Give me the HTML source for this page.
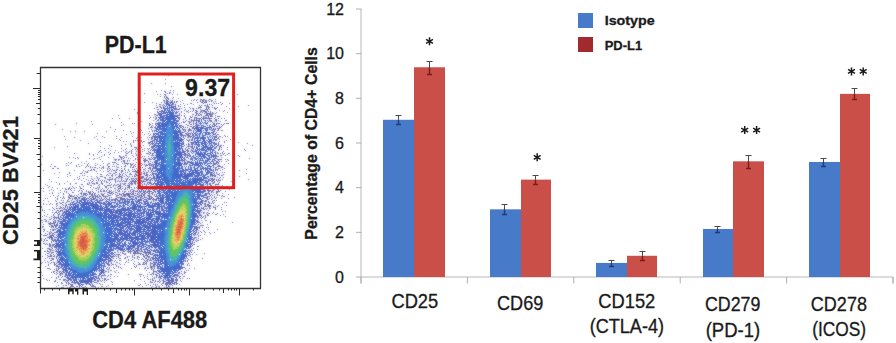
<!DOCTYPE html>
<html><head><meta charset="utf-8"><style>
html,body{margin:0;padding:0;background:#fff;}
svg{display:block;}
text{font-family:"Liberation Sans",sans-serif;fill:#1a1a1a;stroke:#1a1a1a;stroke-width:0.3px;}
.tk{font-size:16px;}
.xl{font-size:19.5px;}
.b{font-weight:bold;}
</style></head><body>
<svg width="896" height="343" viewBox="0 0 896 343" shape-rendering="crispEdges">
<rect width="896" height="343" fill="#fff"/>
<defs><filter id="bl" x="0" y="0" width="1" height="1"><feGaussianBlur in="SourceGraphic" stdDeviation="0.8" result="b"/><feComposite in="SourceGraphic" in2="b" operator="arithmetic" k2="0.45" k3="0.55"/></filter></defs><g filter="url(#bl)"><path d="M148 73.5h1M168 75.5h1M165 79.5h1M138 83.5h1M151 83.5h1M165 83.5h1M171 86.5h1M161 90.5h1M170 90.5h1M173 90.5h1M156 91.5h1M164 91.5h2M165 92.5h1M169 92.5h2M173 92.5h1M144 93.5h1M167 93.5h1M169 93.5h1M157 94.5h1M160 94.5h1M164 94.5h2M172 94.5h1M177 94.5h1M237 94.5h1M165 95.5h1M160 96.5h1M164 96.5h1M166 96.5h1M164 97.5h1M166 97.5h2M173 97.5h1M165 98.5h1M167 98.5h2M172 98.5h1M178 98.5h1M166 99.5h1M168 99.5h1M194 99.5h1M197 99.5h1M200 99.5h2M203 99.5h2M209 99.5h2M215 99.5h1M163 100.5h2M166 100.5h2M170 100.5h1M172 100.5h1M182 100.5h1M191 100.5h1M193 100.5h1M196 100.5h1M200 100.5h1M202 100.5h2M205 100.5h2M208 100.5h1M211 100.5h2M164 101.5h1M166 101.5h3M171 101.5h2M174 101.5h1M176 101.5h2M180 101.5h1M200 101.5h1M202 101.5h2M205 101.5h2M209 101.5h1M211 101.5h1M215 101.5h1M139 102.5h1M144 102.5h1M152 102.5h1M161 102.5h1M164 102.5h1M166 102.5h2M169 102.5h1M171 102.5h2M174 102.5h1M176 102.5h1M197 102.5h1M201 102.5h2M204 102.5h3M213 102.5h1M220 102.5h1M156 103.5h1M165 103.5h1M172 103.5h2M183 103.5h1M190 103.5h2M203 103.5h1M214 103.5h1M216 103.5h1M218 103.5h1M222 103.5h1M229 103.5h1M159 104.5h2M163 104.5h1M172 104.5h2M175 104.5h1M180 104.5h1M187 104.5h1M193 104.5h1M207 104.5h1M209 104.5h1M211 104.5h1M221 104.5h1M156 105.5h1M162 105.5h1M164 105.5h1M175 105.5h1M178 105.5h1M184 105.5h1M199 105.5h1M201 105.5h1M204 105.5h2M207 105.5h1M212 105.5h1M248 105.5h1M159 106.5h2M163 106.5h1M173 106.5h3M178 106.5h1M180 106.5h1M200 106.5h1M206 106.5h3M226 106.5h1M238 106.5h1M156 107.5h2M160 107.5h2M163 107.5h1M175 107.5h1M184 107.5h1M189 107.5h1M198 107.5h4M206 107.5h1M208 107.5h2M212 107.5h1M214 107.5h1M217 107.5h1M154 108.5h1M161 108.5h1M163 108.5h1M174 108.5h3M179 108.5h1M181 108.5h1M190 108.5h1M192 108.5h2M196 108.5h1M198 108.5h1M206 108.5h1M208 108.5h1M214 108.5h3M229 108.5h1M134 109.5h1M157 109.5h2M175 109.5h5M185 109.5h1M193 109.5h1M200 109.5h1M205 109.5h3M209 109.5h1M215 109.5h1M161 110.5h1M184 110.5h1M188 110.5h1M193 110.5h1M195 110.5h2M201 110.5h4M207 110.5h1M219 110.5h1M224 110.5h1M157 111.5h1M159 111.5h3M176 111.5h1M178 111.5h1M181 111.5h1M186 111.5h2M190 111.5h1M192 111.5h1M196 111.5h2M200 111.5h2M203 111.5h4M208 111.5h1M210 111.5h1M223 111.5h1M137 112.5h1M157 112.5h2M176 112.5h2M181 112.5h1M188 112.5h1M195 112.5h2M200 112.5h1M202 112.5h1M205 112.5h2M210 112.5h1M212 112.5h1M216 112.5h1M227 112.5h1M137 113.5h1M158 113.5h3M176 113.5h1M179 113.5h1M184 113.5h1M196 113.5h2M199 113.5h1M204 113.5h1M206 113.5h5M212 113.5h2M215 113.5h1M138 114.5h1M154 114.5h2M158 114.5h2M179 114.5h1M192 114.5h2M196 114.5h1M198 114.5h1M200 114.5h2M206 114.5h2M209 114.5h4M118 115.5h1M149 115.5h1M156 115.5h2M159 115.5h1M176 115.5h4M181 115.5h1M184 115.5h1M195 115.5h2M198 115.5h2M201 115.5h1M205 115.5h4M210 115.5h2M215 115.5h1M155 116.5h1M177 116.5h1M184 116.5h1M190 116.5h1M192 116.5h1M203 116.5h2M208 116.5h1M210 116.5h3M217 116.5h3M150 117.5h1M153 117.5h1M156 117.5h1M158 117.5h1M177 117.5h3M185 117.5h1M190 117.5h2M194 117.5h3M201 117.5h1M205 117.5h2M208 117.5h1M215 117.5h1M112 118.5h1M119 118.5h1M129 118.5h1M149 118.5h1M155 118.5h2M178 118.5h2M185 118.5h1M189 118.5h1M194 118.5h1M196 118.5h5M202 118.5h1M205 118.5h7M214 118.5h1M218 118.5h1M221 118.5h1M224 118.5h1M155 119.5h1M179 119.5h1M183 119.5h1M189 119.5h1M191 119.5h1M194 119.5h1M196 119.5h1M209 119.5h1M215 119.5h2M153 120.5h1M157 120.5h1M178 120.5h1M186 120.5h1M191 120.5h9M204 120.5h2M209 120.5h3M215 120.5h2M218 120.5h1M225 120.5h2M91 121.5h1M139 121.5h1M141 121.5h1M156 121.5h1M183 121.5h1M185 121.5h1M188 121.5h2M191 121.5h1M193 121.5h1M196 121.5h1M198 121.5h1M201 121.5h1M208 121.5h1M210 121.5h2M214 121.5h1M216 121.5h1M220 121.5h1M121 122.5h1M181 122.5h1M183 122.5h2M189 122.5h2M193 122.5h1M196 122.5h1M212 122.5h1M76 123.5h1M132 123.5h1M134 123.5h1M149 123.5h1M152 123.5h1M155 123.5h2M179 123.5h1M189 123.5h1M193 123.5h1M195 123.5h2M213 123.5h2M216 123.5h4M224 123.5h1M226 123.5h3M55 124.5h1M92 124.5h1M123 124.5h1M149 124.5h2M155 124.5h1M186 124.5h1M190 124.5h2M193 124.5h1M196 124.5h2M210 124.5h1M213 124.5h2M216 124.5h1M221 124.5h1M223 124.5h1M121 125.5h1M138 125.5h1M149 125.5h1M152 125.5h1M156 125.5h1M180 125.5h2M187 125.5h2M195 125.5h1M212 125.5h1M214 125.5h2M222 125.5h1M138 126.5h1M151 126.5h1M155 126.5h1M180 126.5h1M182 126.5h2M190 126.5h2M193 126.5h2M196 126.5h1M210 126.5h1M212 126.5h3M216 126.5h2M219 126.5h1M221 126.5h1M110 127.5h1M150 127.5h3M154 127.5h2M180 127.5h2M183 127.5h1M185 127.5h1M187 127.5h1M192 127.5h2M196 127.5h1M211 127.5h1M219 127.5h2M148 128.5h1M155 128.5h1M182 128.5h1M189 128.5h1M192 128.5h2M196 128.5h1M213 128.5h1M215 128.5h1M217 128.5h3M62 129.5h1M115 129.5h1M140 129.5h1M151 129.5h1M182 129.5h4M188 129.5h3M194 129.5h1M212 129.5h4M218 129.5h1M123 130.5h1M141 130.5h1M152 130.5h1M154 130.5h1M183 130.5h1M185 130.5h1M188 130.5h4M193 130.5h1M212 130.5h1M214 130.5h1M217 130.5h2M221 130.5h2M70 131.5h1M75 131.5h1M84 131.5h1M106 131.5h1M114 131.5h1M130 131.5h1M138 131.5h1M149 131.5h1M152 131.5h1M154 131.5h1M184 131.5h2M188 131.5h1M193 131.5h1M213 131.5h2M133 132.5h1M142 132.5h1M181 132.5h3M187 132.5h1M191 132.5h1M193 132.5h1M213 132.5h1M216 132.5h1M97 133.5h1M131 133.5h1M148 133.5h1M153 133.5h2M185 133.5h2M188 133.5h3M192 133.5h1M213 133.5h1M215 133.5h1M126 134.5h1M144 134.5h1M150 134.5h1M153 134.5h1M181 134.5h2M186 134.5h3M190 134.5h1M192 134.5h1M214 134.5h2M217 134.5h2M149 135.5h1M153 135.5h1M182 135.5h4M187 135.5h3M192 135.5h1M216 135.5h1M224 135.5h1M64 136.5h1M96 136.5h1M102 136.5h1M116 136.5h1M132 136.5h1M152 136.5h2M183 136.5h1M185 136.5h1M188 136.5h4M193 136.5h1M215 136.5h2M219 136.5h2M225 136.5h1M227 136.5h1M74 137.5h1M94 137.5h1M104 137.5h1M121 137.5h1M137 137.5h1M141 137.5h1M147 137.5h1M149 137.5h1M151 137.5h2M183 137.5h1M187 137.5h2M190 137.5h1M192 137.5h1M214 137.5h3M218 137.5h1M222 137.5h1M116 138.5h1M136 138.5h1M138 138.5h1M151 138.5h2M184 138.5h1M212 138.5h1M214 138.5h1M217 138.5h2M65 139.5h1M97 139.5h1M119 139.5h1M139 139.5h1M148 139.5h1M151 139.5h1M182 139.5h2M186 139.5h1M189 139.5h1M191 139.5h1M214 139.5h3M219 139.5h1M230 139.5h1M80 140.5h1M120 140.5h1M133 140.5h1M135 140.5h1M137 140.5h2M141 140.5h1M152 140.5h2M187 140.5h3M191 140.5h2M215 140.5h2M226 140.5h1M123 141.5h1M126 141.5h1M133 141.5h1M141 141.5h1M143 141.5h2M150 141.5h3M183 141.5h1M188 141.5h1M219 141.5h1M224 141.5h1M100 142.5h1M133 142.5h1M142 142.5h1M148 142.5h3M152 142.5h1M183 142.5h1M190 142.5h3M214 142.5h1M218 142.5h1M224 142.5h1M238 142.5h1M88 143.5h1M130 143.5h1M148 143.5h2M151 143.5h2M183 143.5h1M188 143.5h1M191 143.5h2M214 143.5h3M218 143.5h1M247 143.5h1M125 144.5h1M130 144.5h1M138 144.5h1M150 144.5h1M152 144.5h1M183 144.5h1M186 144.5h1M188 144.5h2M191 144.5h2M214 144.5h3M218 144.5h1M109 145.5h1M121 145.5h1M131 145.5h1M140 145.5h1M143 145.5h1M149 145.5h1M153 145.5h1M184 145.5h1M188 145.5h1M214 145.5h1M217 145.5h2M220 145.5h2M223 145.5h1M252 145.5h1M67 146.5h1M100 146.5h1M111 146.5h1M131 146.5h1M140 146.5h1M151 146.5h2M183 146.5h1M187 146.5h5M216 146.5h1M219 146.5h2M54 147.5h1M134 147.5h3M141 147.5h1M151 147.5h2M186 147.5h1M191 147.5h2M214 147.5h3M219 147.5h1M221 147.5h1M227 147.5h1M104 148.5h1M108 148.5h1M121 148.5h1M126 148.5h1M136 148.5h1M138 148.5h1M144 148.5h1M147 148.5h1M149 148.5h1M152 148.5h1M185 148.5h1M188 148.5h2M192 148.5h1M215 148.5h1M219 148.5h1M125 149.5h1M132 149.5h1M135 149.5h1M137 149.5h1M142 149.5h1M148 149.5h1M151 149.5h1M185 149.5h1M187 149.5h1M191 149.5h1M218 149.5h2M221 149.5h1M227 149.5h1M233 149.5h1M244 149.5h1M100 150.5h1M105 150.5h1M110 150.5h1M115 150.5h1M123 150.5h1M131 150.5h1M139 150.5h1M144 150.5h1M150 150.5h1M186 150.5h3M191 150.5h1M214 150.5h1M218 150.5h1M245 150.5h1M99 151.5h1M121 151.5h1M126 151.5h1M129 151.5h1M131 151.5h1M136 151.5h1M138 151.5h1M142 151.5h1M148 151.5h1M184 151.5h2M187 151.5h2M190 151.5h1M215 151.5h1M223 151.5h1M260 151.5h1M98 152.5h1M101 152.5h1M108 152.5h1M114 152.5h1M118 152.5h1M125 152.5h1M128 152.5h1M131 152.5h1M140 152.5h1M149 152.5h2M184 152.5h1M187 152.5h1M191 152.5h1M214 152.5h2M217 152.5h1M222 152.5h1M74 153.5h1M89 153.5h1M110 153.5h1M126 153.5h2M131 153.5h1M135 153.5h1M138 153.5h2M146 153.5h3M150 153.5h1M152 153.5h1M184 153.5h2M188 153.5h2M215 153.5h1M217 153.5h2M220 153.5h1M222 153.5h1M224 153.5h1M228 153.5h2M89 154.5h1M93 154.5h1M97 154.5h1M104 154.5h1M109 154.5h1M136 154.5h1M141 154.5h1M149 154.5h1M152 154.5h1M184 154.5h4M189 154.5h1M215 154.5h1M223 154.5h1M227 154.5h1M93 155.5h1M104 155.5h1M119 155.5h1M125 155.5h2M132 155.5h1M136 155.5h1M138 155.5h1M151 155.5h2M184 155.5h2M187 155.5h4M215 155.5h2M220 155.5h2M225 155.5h1M238 155.5h1M42 156.5h1M101 156.5h1M119 156.5h2M123 156.5h1M133 156.5h1M142 156.5h1M144 156.5h1M148 156.5h1M185 156.5h1M187 156.5h1M189 156.5h2M215 156.5h4M239 156.5h1M69 157.5h1M73 157.5h1M77 157.5h1M99 157.5h1M108 157.5h1M113 157.5h1M120 157.5h3M124 157.5h1M126 157.5h1M137 157.5h1M141 157.5h1M151 157.5h1M184 157.5h1M186 157.5h2M215 157.5h1M221 157.5h1M75 158.5h1M78 158.5h1M89 158.5h1M94 158.5h1M97 158.5h1M121 158.5h1M123 158.5h1M128 158.5h1M130 158.5h1M135 158.5h1M139 158.5h1M143 158.5h1M145 158.5h1M148 158.5h2M152 158.5h1M184 158.5h1M188 158.5h1M214 158.5h3M249 158.5h1M93 159.5h1M100 159.5h1M114 159.5h3M118 159.5h2M121 159.5h1M135 159.5h1M137 159.5h1M144 159.5h2M149 159.5h3M185 159.5h1M190 159.5h1M213 159.5h2M217 159.5h5M225 159.5h1M227 159.5h1M115 160.5h1M118 160.5h1M123 160.5h2M127 160.5h1M129 160.5h1M133 160.5h1M139 160.5h1M143 160.5h5M184 160.5h1M186 160.5h1M214 160.5h2M218 160.5h1M228 160.5h1M86 161.5h1M102 161.5h1M121 161.5h1M123 161.5h2M127 161.5h1M139 161.5h1M144 161.5h2M148 161.5h1M150 161.5h1M184 161.5h1M187 161.5h3M216 161.5h2M219 161.5h1M221 161.5h1M226 161.5h1M68 162.5h1M71 162.5h1M81 162.5h1M112 162.5h4M124 162.5h1M136 162.5h1M144 162.5h1M148 162.5h1M152 162.5h1M185 162.5h1M187 162.5h2M213 162.5h1M216 162.5h3M66 163.5h1M70 163.5h1M84 163.5h1M88 163.5h1M95 163.5h1M103 163.5h1M108 163.5h2M116 163.5h1M122 163.5h1M124 163.5h5M130 163.5h1M133 163.5h1M140 163.5h2M149 163.5h2M184 163.5h4M213 163.5h4M218 163.5h1M228 163.5h1M41 164.5h1M51 164.5h1M78 164.5h1M87 164.5h1M97 164.5h1M107 164.5h1M113 164.5h1M117 164.5h2M127 164.5h1M130 164.5h3M135 164.5h1M138 164.5h1M142 164.5h1M144 164.5h1M146 164.5h1M148 164.5h2M151 164.5h2M186 164.5h1M213 164.5h3M217 164.5h1M224 164.5h1M233 164.5h1M66 165.5h1M68 165.5h1M76 165.5h1M81 165.5h1M87 165.5h1M95 165.5h1M100 165.5h1M107 165.5h1M125 165.5h1M131 165.5h1M134 165.5h1M141 165.5h1M145 165.5h3M149 165.5h3M212 165.5h2M218 165.5h2M50 166.5h1M54 166.5h2M76 166.5h1M79 166.5h1M86 166.5h1M88 166.5h1M90 166.5h1M103 166.5h1M108 166.5h2M112 166.5h1M114 166.5h1M116 166.5h1M121 166.5h1M124 166.5h2M130 166.5h1M133 166.5h1M135 166.5h1M145 166.5h1M152 166.5h1M213 166.5h1M217 166.5h4M222 166.5h1M85 167.5h1M90 167.5h1M92 167.5h1M94 167.5h2M99 167.5h1M102 167.5h2M108 167.5h1M117 167.5h2M130 167.5h1M132 167.5h2M139 167.5h2M142 167.5h1M149 167.5h2M213 167.5h1M215 167.5h2M221 167.5h2M52 168.5h2M57 168.5h2M97 168.5h1M101 168.5h1M103 168.5h1M107 168.5h1M109 168.5h1M121 168.5h1M124 168.5h1M136 168.5h1M139 168.5h1M145 168.5h1M148 168.5h3M152 168.5h1M215 168.5h1M218 168.5h2M224 168.5h1M91 169.5h1M93 169.5h2M107 169.5h1M110 169.5h1M112 169.5h1M116 169.5h2M124 169.5h1M128 169.5h1M132 169.5h1M134 169.5h1M138 169.5h3M143 169.5h2M150 169.5h1M152 169.5h1M211 169.5h1M213 169.5h1M215 169.5h3M222 169.5h1M246 169.5h1M43 170.5h1M74 170.5h1M83 170.5h1M88 170.5h1M90 170.5h2M94 170.5h1M100 170.5h1M109 170.5h1M113 170.5h2M116 170.5h1M119 170.5h1M121 170.5h2M125 170.5h1M128 170.5h1M135 170.5h1M137 170.5h1M139 170.5h2M145 170.5h1M148 170.5h1M151 170.5h2M212 170.5h2M215 170.5h1M217 170.5h1M220 170.5h1M239 170.5h1M85 171.5h1M87 171.5h1M96 171.5h1M103 171.5h1M107 171.5h2M111 171.5h1M115 171.5h1M121 171.5h2M129 171.5h1M132 171.5h7M143 171.5h1M148 171.5h1M151 171.5h1M213 171.5h1M59 172.5h1M69 172.5h1M82 172.5h1M86 172.5h2M115 172.5h2M121 172.5h1M125 172.5h1M127 172.5h1M136 172.5h2M141 172.5h1M144 172.5h1M146 172.5h2M150 172.5h1M152 172.5h1M211 172.5h2M214 172.5h1M216 172.5h1M222 172.5h1M224 172.5h1M54 173.5h1M69 173.5h1M80 173.5h2M84 173.5h1M97 173.5h1M109 173.5h2M113 173.5h2M119 173.5h1M123 173.5h1M130 173.5h1M135 173.5h1M138 173.5h1M141 173.5h1M143 173.5h2M146 173.5h1M152 173.5h1M211 173.5h1M213 173.5h1M216 173.5h1M219 173.5h1M246 173.5h1M67 174.5h1M100 174.5h2M107 174.5h1M112 174.5h1M116 174.5h1M119 174.5h2M122 174.5h1M125 174.5h1M129 174.5h3M135 174.5h2M140 174.5h2M144 174.5h1M146 174.5h2M150 174.5h1M152 174.5h1M212 174.5h1M214 174.5h1M217 174.5h2M223 174.5h1M70 175.5h1M82 175.5h1M84 175.5h1M106 175.5h1M108 175.5h1M111 175.5h2M115 175.5h1M119 175.5h1M122 175.5h1M126 175.5h1M134 175.5h1M136 175.5h3M145 175.5h3M149 175.5h1M151 175.5h1M211 175.5h5M219 175.5h1M221 175.5h2M67 176.5h1M79 176.5h1M87 176.5h1M91 176.5h1M96 176.5h1M100 176.5h3M112 176.5h1M118 176.5h4M124 176.5h1M127 176.5h1M129 176.5h1M132 176.5h1M134 176.5h2M139 176.5h1M141 176.5h3M147 176.5h1M153 176.5h1M212 176.5h1M214 176.5h2M239 176.5h1M58 177.5h1M77 177.5h1M97 177.5h1M104 177.5h2M109 177.5h2M116 177.5h2M119 177.5h1M121 177.5h2M128 177.5h1M138 177.5h2M141 177.5h3M146 177.5h1M149 177.5h2M217 177.5h1M220 177.5h1M223 177.5h1M79 178.5h1M83 178.5h1M91 178.5h1M94 178.5h1M97 178.5h1M99 178.5h1M105 178.5h1M112 178.5h1M115 178.5h1M118 178.5h1M121 178.5h1M125 178.5h1M127 178.5h1M131 178.5h3M135 178.5h2M139 178.5h4M144 178.5h1M146 178.5h1M148 178.5h1M151 178.5h3M211 178.5h2M214 178.5h1M219 178.5h1M49 179.5h1M74 179.5h1M78 179.5h1M86 179.5h1M92 179.5h1M98 179.5h1M107 179.5h6M114 179.5h2M121 179.5h1M126 179.5h2M129 179.5h1M131 179.5h1M134 179.5h1M136 179.5h1M138 179.5h2M144 179.5h5M150 179.5h2M211 179.5h4M216 179.5h1M218 179.5h1M222 179.5h1M248 179.5h1M81 180.5h1M88 180.5h1M90 180.5h1M93 180.5h1M96 180.5h1M98 180.5h1M100 180.5h1M102 180.5h1M104 180.5h1M109 180.5h1M115 180.5h1M118 180.5h1M121 180.5h1M123 180.5h1M126 180.5h1M132 180.5h2M135 180.5h1M137 180.5h1M140 180.5h2M143 180.5h1M146 180.5h2M149 180.5h2M152 180.5h1M210 180.5h1M212 180.5h2M216 180.5h1M218 180.5h3M51 181.5h1M67 181.5h1M84 181.5h1M92 181.5h1M101 181.5h1M104 181.5h1M106 181.5h1M115 181.5h1M117 181.5h1M119 181.5h2M122 181.5h1M124 181.5h3M130 181.5h7M139 181.5h1M141 181.5h5M150 181.5h1M211 181.5h2M214 181.5h1M217 181.5h1M231 181.5h1M56 182.5h1M89 182.5h1M91 182.5h1M96 182.5h2M101 182.5h1M106 182.5h2M110 182.5h1M115 182.5h1M129 182.5h1M131 182.5h1M134 182.5h2M138 182.5h1M140 182.5h1M142 182.5h1M147 182.5h4M213 182.5h2M219 182.5h1M59 183.5h1M64 183.5h1M70 183.5h1M75 183.5h2M87 183.5h1M89 183.5h1M92 183.5h3M96 183.5h2M101 183.5h2M109 183.5h1M120 183.5h1M122 183.5h1M124 183.5h2M128 183.5h1M130 183.5h3M134 183.5h2M137 183.5h1M141 183.5h1M144 183.5h1M147 183.5h1M149 183.5h3M153 183.5h1M210 183.5h1M212 183.5h2M218 183.5h1M45 184.5h1M59 184.5h1M70 184.5h1M81 184.5h2M87 184.5h2M94 184.5h1M99 184.5h1M102 184.5h1M111 184.5h1M114 184.5h1M117 184.5h2M120 184.5h1M123 184.5h2M129 184.5h1M131 184.5h2M135 184.5h1M139 184.5h1M142 184.5h1M144 184.5h1M146 184.5h1M148 184.5h1M151 184.5h3M210 184.5h1M215 184.5h4M47 185.5h1M90 185.5h2M98 185.5h1M104 185.5h1M107 185.5h4M113 185.5h1M115 185.5h2M119 185.5h2M125 185.5h1M127 185.5h3M139 185.5h2M142 185.5h1M146 185.5h1M150 185.5h1M210 185.5h2M215 185.5h1M222 185.5h1M49 186.5h1M72 186.5h1M79 186.5h1M83 186.5h1M99 186.5h1M105 186.5h2M113 186.5h1M118 186.5h3M122 186.5h1M128 186.5h2M137 186.5h2M140 186.5h2M143 186.5h1M145 186.5h2M148 186.5h1M152 186.5h3M209 186.5h1M211 186.5h2M216 186.5h4M221 186.5h1M226 186.5h1M48 187.5h1M52 187.5h1M69 187.5h1M73 187.5h1M76 187.5h1M80 187.5h1M90 187.5h1M93 187.5h1M97 187.5h1M99 187.5h1M105 187.5h2M110 187.5h2M117 187.5h1M120 187.5h1M125 187.5h1M127 187.5h3M131 187.5h1M134 187.5h1M136 187.5h1M141 187.5h1M150 187.5h3M210 187.5h6M218 187.5h1M220 187.5h1M41 188.5h1M43 188.5h1M57 188.5h1M62 188.5h1M65 188.5h1M68 188.5h2M71 188.5h1M74 188.5h1M80 188.5h2M95 188.5h2M98 188.5h1M102 188.5h1M108 188.5h1M114 188.5h2M118 188.5h3M122 188.5h1M125 188.5h1M129 188.5h1M134 188.5h1M137 188.5h1M139 188.5h7M150 188.5h1M152 188.5h3M210 188.5h3M222 188.5h1M51 189.5h1M65 189.5h2M68 189.5h1M70 189.5h1M83 189.5h1M92 189.5h1M98 189.5h1M101 189.5h1M107 189.5h1M118 189.5h1M121 189.5h1M124 189.5h2M127 189.5h1M131 189.5h2M138 189.5h1M141 189.5h2M146 189.5h1M148 189.5h1M150 189.5h1M152 189.5h1M154 189.5h2M208 189.5h1M213 189.5h2M217 189.5h2M229 189.5h1M49 190.5h1M53 190.5h1M60 190.5h1M71 190.5h1M74 190.5h1M79 190.5h1M81 190.5h1M86 190.5h1M96 190.5h1M100 190.5h1M103 190.5h2M106 190.5h1M109 190.5h1M111 190.5h1M115 190.5h1M117 190.5h1M119 190.5h1M130 190.5h1M133 190.5h2M137 190.5h1M139 190.5h1M141 190.5h1M143 190.5h1M145 190.5h1M148 190.5h2M153 190.5h2M207 190.5h4M212 190.5h2M218 190.5h1M220 190.5h1M43 191.5h1M64 191.5h1M66 191.5h1M78 191.5h1M82 191.5h1M86 191.5h1M88 191.5h1M90 191.5h1M92 191.5h1M98 191.5h1M100 191.5h2M103 191.5h2M106 191.5h1M109 191.5h2M113 191.5h1M118 191.5h2M122 191.5h1M124 191.5h2M128 191.5h1M130 191.5h1M132 191.5h2M135 191.5h3M139 191.5h3M143 191.5h3M147 191.5h5M154 191.5h2M208 191.5h2M211 191.5h2M216 191.5h4M225 191.5h1M52 192.5h1M60 192.5h1M66 192.5h1M72 192.5h2M81 192.5h1M88 192.5h3M93 192.5h1M98 192.5h1M107 192.5h3M111 192.5h2M115 192.5h2M124 192.5h1M131 192.5h1M133 192.5h1M138 192.5h1M140 192.5h1M143 192.5h2M146 192.5h2M149 192.5h1M152 192.5h2M208 192.5h1M211 192.5h1M213 192.5h1M216 192.5h2M49 193.5h1M52 193.5h1M58 193.5h1M63 193.5h1M68 193.5h1M80 193.5h2M83 193.5h4M89 193.5h2M92 193.5h1M94 193.5h2M101 193.5h1M104 193.5h1M109 193.5h3M113 193.5h1M117 193.5h1M119 193.5h1M122 193.5h2M126 193.5h5M132 193.5h2M135 193.5h1M137 193.5h1M139 193.5h1M141 193.5h2M144 193.5h2M148 193.5h2M151 193.5h2M207 193.5h3M216 193.5h1M222 193.5h1M63 194.5h1M69 194.5h1M78 194.5h1M81 194.5h1M83 194.5h3M87 194.5h1M89 194.5h1M91 194.5h2M94 194.5h1M98 194.5h1M101 194.5h3M107 194.5h1M112 194.5h1M115 194.5h1M119 194.5h3M123 194.5h7M131 194.5h3M137 194.5h2M141 194.5h1M143 194.5h2M149 194.5h1M152 194.5h1M154 194.5h1M206 194.5h1M209 194.5h1M211 194.5h1M214 194.5h1M217 194.5h1M228 194.5h1M53 195.5h1M58 195.5h1M69 195.5h3M74 195.5h1M76 195.5h1M83 195.5h1M85 195.5h2M91 195.5h2M94 195.5h2M97 195.5h1M99 195.5h1M102 195.5h2M108 195.5h3M116 195.5h3M121 195.5h1M123 195.5h3M127 195.5h3M134 195.5h3M139 195.5h3M143 195.5h2M147 195.5h3M154 195.5h1M210 195.5h1M212 195.5h1M217 195.5h1M219 195.5h1M222 195.5h1M50 196.5h1M57 196.5h1M63 196.5h1M68 196.5h1M70 196.5h4M77 196.5h1M80 196.5h3M89 196.5h2M92 196.5h2M95 196.5h3M99 196.5h2M103 196.5h5M116 196.5h1M122 196.5h1M124 196.5h2M128 196.5h6M137 196.5h3M141 196.5h2M144 196.5h1M148 196.5h4M155 196.5h3M207 196.5h3M214 196.5h1M221 196.5h1M223 196.5h2M55 197.5h1M60 197.5h1M63 197.5h1M68 197.5h2M74 197.5h3M78 197.5h2M83 197.5h3M89 197.5h1M92 197.5h2M95 197.5h1M97 197.5h2M101 197.5h1M105 197.5h1M109 197.5h1M111 197.5h1M117 197.5h5M129 197.5h2M133 197.5h1M135 197.5h2M138 197.5h1M140 197.5h2M144 197.5h3M149 197.5h1M151 197.5h2M204 197.5h4M211 197.5h1M214 197.5h1M216 197.5h1M234 197.5h1M45 198.5h1M47 198.5h1M57 198.5h1M62 198.5h1M64 198.5h1M69 198.5h2M72 198.5h1M74 198.5h3M78 198.5h2M81 198.5h4M86 198.5h2M90 198.5h2M93 198.5h3M99 198.5h1M101 198.5h1M104 198.5h1M106 198.5h1M109 198.5h1M115 198.5h2M120 198.5h5M126 198.5h2M131 198.5h1M136 198.5h1M140 198.5h1M142 198.5h2M147 198.5h5M153 198.5h1M156 198.5h2M206 198.5h2M209 198.5h1M212 198.5h1M215 198.5h1M221 198.5h1M228 198.5h1M57 199.5h1M68 199.5h1M72 199.5h1M75 199.5h1M77 199.5h1M89 199.5h1M94 199.5h1M96 199.5h2M100 199.5h1M102 199.5h2M105 199.5h1M107 199.5h3M111 199.5h7M120 199.5h3M124 199.5h2M127 199.5h1M136 199.5h1M139 199.5h1M141 199.5h1M145 199.5h2M148 199.5h3M152 199.5h5M207 199.5h2M211 199.5h1M43 200.5h1M55 200.5h1M61 200.5h1M63 200.5h1M67 200.5h1M71 200.5h1M76 200.5h2M99 200.5h2M102 200.5h1M106 200.5h1M111 200.5h2M114 200.5h2M117 200.5h1M119 200.5h2M125 200.5h1M147 200.5h1M153 200.5h1M156 200.5h1M203 200.5h1M205 200.5h2M213 200.5h2M216 200.5h1M48 201.5h1M56 201.5h1M67 201.5h3M73 201.5h2M98 201.5h1M105 201.5h3M115 201.5h1M147 201.5h1M151 201.5h1M153 201.5h1M204 201.5h3M208 201.5h1M212 201.5h1M59 202.5h1M62 202.5h2M66 202.5h1M71 202.5h2M109 202.5h1M151 202.5h1M208 202.5h2M212 202.5h1M214 202.5h1M224 202.5h1M226 202.5h1M43 203.5h1M50 203.5h1M56 203.5h2M60 203.5h2M65 203.5h1M70 203.5h1M150 203.5h1M152 203.5h1M204 203.5h2M209 203.5h1M211 203.5h1M213 203.5h1M43 204.5h1M46 204.5h1M49 204.5h1M52 204.5h1M56 204.5h1M62 204.5h1M66 204.5h1M68 204.5h2M204 204.5h2M207 204.5h2M222 204.5h1M57 205.5h1M63 205.5h1M65 205.5h2M201 205.5h1M205 205.5h1M207 205.5h4M215 205.5h1M218 205.5h1M226 205.5h1M41 206.5h1M56 206.5h1M60 206.5h1M65 206.5h1M67 206.5h1M204 206.5h3M208 206.5h3M213 206.5h1M217 206.5h1M41 207.5h1M52 207.5h1M60 207.5h2M63 207.5h1M65 207.5h1M67 207.5h1M201 207.5h1M203 207.5h1M209 207.5h1M213 207.5h3M221 207.5h1M53 208.5h1M56 208.5h2M59 208.5h2M62 208.5h1M64 208.5h1M201 208.5h3M205 208.5h1M207 208.5h1M209 208.5h2M215 208.5h1M42 209.5h1M49 209.5h1M54 209.5h1M63 209.5h3M200 209.5h1M203 209.5h2M206 209.5h1M215 209.5h1M221 209.5h1M42 210.5h1M44 210.5h1M52 210.5h1M57 210.5h2M60 210.5h3M200 210.5h2M208 210.5h1M56 211.5h1M59 211.5h2M62 211.5h1M64 211.5h1M200 211.5h1M222 211.5h1M225 211.5h1M44 212.5h1M52 212.5h1M55 212.5h2M58 212.5h1M201 212.5h1M203 212.5h2M207 212.5h1M213 212.5h1M54 213.5h1M57 213.5h1M59 213.5h1M63 213.5h1M198 213.5h2M203 213.5h1M206 213.5h1M208 213.5h2M212 213.5h1M217 213.5h1M47 214.5h1M53 214.5h1M58 214.5h2M199 214.5h2M207 214.5h1M215 214.5h2M223 214.5h1M44 215.5h1M53 215.5h1M58 215.5h1M199 215.5h3M205 215.5h1M207 215.5h2M220 215.5h1M42 216.5h1M46 216.5h1M51 216.5h1M54 216.5h1M58 216.5h1M60 216.5h1M198 216.5h1M201 216.5h1M203 216.5h1M205 216.5h1M225 216.5h1M49 217.5h1M53 217.5h6M60 217.5h1M198 217.5h1M200 217.5h1M202 217.5h1M205 217.5h1M51 218.5h1M54 218.5h1M56 218.5h1M58 218.5h1M201 218.5h1M204 218.5h1M44 219.5h2M49 219.5h2M53 219.5h1M198 219.5h1M41 220.5h2M46 220.5h1M54 220.5h2M57 220.5h1M197 220.5h1M201 220.5h1M205 220.5h2M45 221.5h2M48 221.5h1M53 221.5h1M55 221.5h1M197 221.5h2M210 221.5h1M42 222.5h1M50 222.5h1M53 222.5h3M197 222.5h3M202 222.5h1M210 222.5h1M232 222.5h1M48 223.5h7M57 223.5h1M200 223.5h1M43 224.5h1M49 224.5h2M54 224.5h1M56 224.5h1M198 224.5h1M207 224.5h1M51 225.5h2M54 225.5h3M197 225.5h1M200 225.5h4M42 226.5h2M49 226.5h1M51 226.5h3M55 226.5h2M196 226.5h1M199 226.5h1M42 227.5h1M51 227.5h1M53 227.5h1M55 227.5h1M196 227.5h4M202 227.5h1M206 227.5h1M208 227.5h1M195 228.5h3M199 228.5h1M43 229.5h2M50 229.5h1M52 229.5h3M196 229.5h2M208 229.5h1M217 229.5h1M44 230.5h1M52 230.5h2M195 230.5h2M198 230.5h1M203 230.5h1M43 231.5h1M47 231.5h1M50 231.5h1M196 231.5h1M200 231.5h1M204 231.5h1M49 232.5h1M51 232.5h1M54 232.5h1M195 232.5h2M198 232.5h1M201 232.5h1M205 232.5h1M209 232.5h1M214 232.5h1M45 233.5h1M49 233.5h2M52 233.5h2M195 233.5h1M198 233.5h1M210 233.5h1M41 234.5h1M47 234.5h1M49 234.5h1M52 234.5h1M54 234.5h1M194 234.5h2M197 234.5h1M204 234.5h1M43 235.5h4M50 235.5h4M194 235.5h1M198 235.5h1M200 235.5h1M49 236.5h3M53 236.5h1M198 236.5h1M47 237.5h6M54 237.5h1M194 237.5h3M41 238.5h1M45 238.5h1M49 238.5h1M51 238.5h2M193 238.5h2M198 238.5h1M202 238.5h1M41 239.5h1M44 239.5h1M51 239.5h2M54 239.5h1M193 239.5h1M196 239.5h1M200 239.5h1M41 240.5h1M44 240.5h1M46 240.5h2M52 240.5h2M193 240.5h1M195 240.5h1M197 240.5h2M43 241.5h1M51 241.5h1M53 241.5h1M192 241.5h1M196 241.5h1M51 242.5h1M192 242.5h1M194 242.5h1M43 243.5h2M46 243.5h1M49 243.5h1M191 243.5h2M45 244.5h1M47 244.5h1M49 244.5h2M52 244.5h3M191 244.5h1M193 244.5h2M49 245.5h2M52 245.5h2M192 245.5h1M49 246.5h2M52 246.5h1M54 246.5h1M191 246.5h1M197 246.5h2M51 247.5h1M54 247.5h1M190 247.5h1M42 248.5h1M47 248.5h3M52 248.5h1M127 248.5h1M138 248.5h1M193 248.5h1M49 249.5h3M55 249.5h1M131 249.5h1M133 249.5h1M135 249.5h1M137 249.5h2M140 249.5h2M143 249.5h2M146 249.5h1M191 249.5h1M197 249.5h1M47 250.5h1M50 250.5h1M52 250.5h2M120 250.5h1M122 250.5h2M128 250.5h1M130 250.5h1M132 250.5h3M136 250.5h4M141 250.5h1M144 250.5h1M147 250.5h2M189 250.5h2M192 250.5h1M44 251.5h2M47 251.5h2M50 251.5h1M55 251.5h1M123 251.5h2M127 251.5h5M134 251.5h4M140 251.5h3M144 251.5h2M147 251.5h1M149 251.5h2M190 251.5h1M49 252.5h1M51 252.5h3M118 252.5h1M120 252.5h1M122 252.5h1M128 252.5h1M130 252.5h1M133 252.5h3M137 252.5h2M143 252.5h6M150 252.5h1M188 252.5h2M191 252.5h1M194 252.5h1M47 253.5h2M51 253.5h1M56 253.5h1M122 253.5h2M125 253.5h1M130 253.5h1M133 253.5h9M145 253.5h2M148 253.5h3M189 253.5h1M204 253.5h1M45 254.5h1M50 254.5h1M53 254.5h1M114 254.5h1M116 254.5h4M124 254.5h2M134 254.5h1M140 254.5h1M142 254.5h2M146 254.5h1M148 254.5h1M150 254.5h2M190 254.5h1M192 254.5h1M196 254.5h1M47 255.5h1M50 255.5h2M54 255.5h1M113 255.5h1M115 255.5h1M118 255.5h1M120 255.5h1M132 255.5h1M134 255.5h1M143 255.5h1M145 255.5h3M188 255.5h2M42 256.5h1M48 256.5h4M53 256.5h2M56 256.5h1M113 256.5h2M116 256.5h1M118 256.5h1M127 256.5h1M129 256.5h1M132 256.5h1M137 256.5h2M143 256.5h2M147 256.5h3M190 256.5h1M47 257.5h1M111 257.5h2M118 257.5h1M125 257.5h1M127 257.5h1M132 257.5h1M134 257.5h1M137 257.5h1M139 257.5h1M144 257.5h1M146 257.5h1M148 257.5h2M151 257.5h3M186 257.5h1M45 258.5h1M49 258.5h1M51 258.5h3M56 258.5h1M113 258.5h1M116 258.5h1M119 258.5h2M124 258.5h2M134 258.5h1M137 258.5h1M142 258.5h1M145 258.5h2M150 258.5h1M152 258.5h3M187 258.5h1M191 258.5h1M202 258.5h1M52 259.5h2M110 259.5h2M128 259.5h1M132 259.5h1M138 259.5h1M141 259.5h1M143 259.5h1M147 259.5h2M150 259.5h1M152 259.5h2M188 259.5h1M44 260.5h1M50 260.5h2M109 260.5h4M115 260.5h1M119 260.5h2M128 260.5h1M131 260.5h1M144 260.5h1M146 260.5h2M149 260.5h3M154 260.5h1M185 260.5h1M187 260.5h1M191 260.5h1M47 261.5h1M57 261.5h1M109 261.5h2M114 261.5h1M126 261.5h1M134 261.5h1M145 261.5h1M147 261.5h1M153 261.5h1M185 261.5h1M187 261.5h1M42 262.5h1M45 262.5h1M48 262.5h1M51 262.5h1M53 262.5h2M57 262.5h1M108 262.5h1M111 262.5h1M116 262.5h2M125 262.5h1M128 262.5h1M138 262.5h1M143 262.5h2M146 262.5h1M150 262.5h1M153 262.5h2M41 263.5h1M50 263.5h1M54 263.5h1M56 263.5h1M107 263.5h2M111 263.5h1M119 263.5h1M133 263.5h1M139 263.5h1M143 263.5h1M145 263.5h2M150 263.5h3M188 263.5h1M48 264.5h1M54 264.5h2M58 264.5h1M107 264.5h3M112 264.5h2M115 264.5h1M120 264.5h1M124 264.5h1M134 264.5h1M138 264.5h3M142 264.5h3M146 264.5h1M150 264.5h1M153 264.5h2M187 264.5h1M48 265.5h1M54 265.5h1M56 265.5h2M108 265.5h2M111 265.5h1M116 265.5h1M136 265.5h1M150 265.5h1M153 265.5h2M187 265.5h1M189 265.5h1M45 266.5h1M56 266.5h4M116 266.5h1M118 266.5h1M134 266.5h1M136 266.5h1M147 266.5h1M150 266.5h5M58 267.5h1M107 267.5h1M109 267.5h1M113 267.5h1M118 267.5h1M120 267.5h1M135 267.5h1M145 267.5h1M150 267.5h2M154 267.5h1M182 267.5h3M47 268.5h3M56 268.5h1M58 268.5h2M106 268.5h1M109 268.5h1M114 268.5h1M121 268.5h1M131 268.5h1M139 268.5h1M144 268.5h2M147 268.5h2M151 268.5h2M154 268.5h1M181 268.5h2M185 268.5h1M189 268.5h1M194 268.5h1M50 269.5h1M54 269.5h1M56 269.5h1M58 269.5h1M107 269.5h2M151 269.5h1M153 269.5h1M56 270.5h2M103 270.5h2M110 270.5h2M116 270.5h1M146 270.5h1M153 270.5h1M186 270.5h1M188 270.5h1M53 271.5h2M57 271.5h1M59 271.5h2M103 271.5h1M105 271.5h2M108 271.5h1M114 271.5h1M153 271.5h4M181 271.5h1M184 271.5h1M41 272.5h1M51 272.5h1M53 272.5h1M56 272.5h1M59 272.5h1M61 272.5h1M102 272.5h3M108 272.5h1M115 272.5h1M118 272.5h1M149 272.5h1M153 272.5h1M156 272.5h1M184 272.5h2M54 273.5h1M57 273.5h1M60 273.5h3M103 273.5h1M152 273.5h2M157 273.5h2M179 273.5h1M181 273.5h1M184 273.5h1M56 274.5h1M59 274.5h2M62 274.5h1M100 274.5h1M104 274.5h1M110 274.5h2M128 274.5h1M139 274.5h3M147 274.5h1M150 274.5h2M153 274.5h1M155 274.5h2M182 274.5h1M42 275.5h1M60 275.5h1M99 275.5h1M101 275.5h5M108 275.5h1M143 275.5h1M156 275.5h2M178 275.5h1M58 276.5h1M62 276.5h1M64 276.5h2M98 276.5h1M101 276.5h1M107 276.5h1M110 276.5h1M114 276.5h1M117 276.5h1M140 276.5h1M147 276.5h1M152 276.5h1M156 276.5h1M159 276.5h1M177 276.5h1M179 276.5h2M183 276.5h2M51 277.5h1M56 277.5h1M58 277.5h1M61 277.5h1M96 277.5h1M98 277.5h1M101 277.5h1M144 277.5h1M154 277.5h1M156 277.5h1M158 277.5h3M176 277.5h1M179 277.5h1M43 278.5h1M56 278.5h1M67 278.5h1M97 278.5h3M102 278.5h1M104 278.5h2M110 278.5h1M147 278.5h1M152 278.5h1M154 278.5h1M160 278.5h1M176 278.5h1M180 278.5h1M182 278.5h1M187 278.5h1M189 278.5h1M46 279.5h1M59 279.5h2M63 279.5h3M68 279.5h1M95 279.5h1M99 279.5h1M104 279.5h2M107 279.5h2M140 279.5h1M148 279.5h1M150 279.5h1M152 279.5h1M159 279.5h1M175 279.5h3M47 280.5h1M49 280.5h1M55 280.5h1M63 280.5h2M66 280.5h3M94 280.5h2M97 280.5h2M100 280.5h1M102 280.5h1M104 280.5h1M106 280.5h1M134 280.5h1M152 280.5h2M155 280.5h1M159 280.5h1M162 280.5h2M173 280.5h1M175 280.5h3M180 280.5h1M54 281.5h2M65 281.5h1M67 281.5h1M92 281.5h2M97 281.5h2M101 281.5h1M111 281.5h1M144 281.5h1M150 281.5h1M155 281.5h1M157 281.5h2M160 281.5h1M163 281.5h1M171 281.5h1M173 281.5h1M176 281.5h1M181 281.5h1M57 282.5h1M61 282.5h1M66 282.5h1M68 282.5h1M71 282.5h2M90 282.5h2M94 282.5h3M104 282.5h1M112 282.5h1M150 282.5h3M154 282.5h1M159 282.5h1M163 282.5h1M166 282.5h1M168 282.5h1M171 282.5h2M174 282.5h3M61 283.5h2M66 283.5h1M68 283.5h2M74 283.5h2M89 283.5h1M91 283.5h1M97 283.5h1M99 283.5h1M145 283.5h1M162 283.5h2M165 283.5h6M172 283.5h3M176 283.5h2M68 284.5h1M70 284.5h3M78 284.5h1M86 284.5h1M89 284.5h2M92 284.5h1M100 284.5h1M102 284.5h1M112 284.5h1M140 284.5h1M148 284.5h1M153 284.5h1M155 284.5h1M157 284.5h1M161 284.5h1M165 284.5h3M169 284.5h3M174 284.5h1M176 284.5h1M179 284.5h1M58 285.5h1M63 285.5h1M65 285.5h2M71 285.5h2M79 285.5h2M90 285.5h1M92 285.5h2M108 285.5h1M138 285.5h2M146 285.5h1M150 285.5h1M155 285.5h1M162 285.5h1M166 285.5h1M168 285.5h1M172 285.5h1M56 286.5h1M70 286.5h4M76 286.5h2M79 286.5h1M81 286.5h1M85 286.5h1M91 286.5h5M101 286.5h2M106 286.5h1M142 286.5h1M152 286.5h1M156 286.5h1M158 286.5h2M166 286.5h1M168 286.5h2M61 287.5h3M67 287.5h1M69 287.5h2M74 287.5h1M79 287.5h1M82 287.5h3M86 287.5h1M95 287.5h1M98 287.5h1M151 287.5h1M155 287.5h2M159 287.5h1M164 287.5h1M166 287.5h2M169 287.5h1M172 287.5h1M176 287.5h1" stroke="#5f62a8" stroke-width="1" fill="none"/><path d="M170 102.5h1M166 103.5h3M170 103.5h1M166 104.5h4M171 104.5h1M166 105.5h1M168 105.5h4M165 106.5h1M167 106.5h1M169 106.5h1M171 106.5h2M164 107.5h1M167 107.5h1M169 107.5h5M164 108.5h6M171 108.5h1M173 108.5h1M164 109.5h2M167 109.5h1M169 109.5h1M171 109.5h2M174 109.5h1M162 110.5h1M164 110.5h2M167 110.5h3M171 110.5h3M162 111.5h3M166 111.5h1M168 111.5h3M172 111.5h1M174 111.5h1M161 112.5h1M163 112.5h11M175 112.5h1M161 113.5h5M167 113.5h1M171 113.5h3M175 113.5h1M160 114.5h2M166 114.5h2M170 114.5h1M172 114.5h2M160 115.5h2M163 115.5h4M172 115.5h4M160 116.5h5M173 116.5h4M159 117.5h5M173 117.5h2M203 117.5h1M159 118.5h2M162 118.5h4M173 118.5h4M203 118.5h2M158 119.5h1M160 119.5h4M173 119.5h3M199 119.5h1M201 119.5h1M203 119.5h1M158 120.5h1M160 120.5h5M174 120.5h4M201 120.5h1M207 120.5h1M162 121.5h2M174 121.5h1M176 121.5h3M199 121.5h1M205 121.5h1M158 122.5h3M162 122.5h2M174 122.5h3M198 122.5h1M200 122.5h1M202 122.5h1M204 122.5h2M207 122.5h1M157 123.5h7M174 123.5h4M199 123.5h3M203 123.5h1M205 123.5h3M157 124.5h3M161 124.5h2M175 124.5h2M178 124.5h1M200 124.5h1M206 124.5h1M158 125.5h5M175 125.5h3M179 125.5h1M196 125.5h4M201 125.5h3M207 125.5h1M209 125.5h1M157 126.5h6M174 126.5h1M176 126.5h2M179 126.5h1M197 126.5h1M201 126.5h1M203 126.5h3M209 126.5h1M157 127.5h4M162 127.5h1M176 127.5h3M195 127.5h1M197 127.5h7M206 127.5h5M156 128.5h2M159 128.5h3M176 128.5h1M178 128.5h2M194 128.5h2M197 128.5h2M200 128.5h8M209 128.5h1M211 128.5h1M156 129.5h6M175 129.5h1M177 129.5h1M179 129.5h1M196 129.5h6M205 129.5h3M209 129.5h2M155 130.5h2M158 130.5h1M175 130.5h2M178 130.5h3M195 130.5h1M197 130.5h5M203 130.5h1M205 130.5h3M211 130.5h1M156 131.5h2M159 131.5h2M162 131.5h1M176 131.5h5M196 131.5h6M206 131.5h1M158 132.5h4M177 132.5h4M195 132.5h2M200 132.5h2M203 132.5h7M211 132.5h2M155 133.5h4M160 133.5h1M176 133.5h2M180 133.5h2M194 133.5h2M197 133.5h1M199 133.5h2M202 133.5h1M205 133.5h2M208 133.5h3M212 133.5h1M154 134.5h1M156 134.5h3M160 134.5h1M176 134.5h5M193 134.5h1M195 134.5h2M198 134.5h3M202 134.5h1M205 134.5h5M213 134.5h1M155 135.5h1M158 135.5h3M176 135.5h3M180 135.5h2M193 135.5h1M195 135.5h3M199 135.5h1M202 135.5h4M210 135.5h1M212 135.5h1M154 136.5h6M177 136.5h2M181 136.5h1M194 136.5h1M197 136.5h1M199 136.5h1M202 136.5h2M207 136.5h1M209 136.5h1M211 136.5h1M213 136.5h2M154 137.5h6M177 137.5h4M193 137.5h1M195 137.5h11M207 137.5h2M210 137.5h1M212 137.5h1M154 138.5h2M157 138.5h1M159 138.5h2M176 138.5h3M180 138.5h2M192 138.5h1M194 138.5h5M200 138.5h6M208 138.5h1M154 139.5h4M159 139.5h1M177 139.5h5M192 139.5h1M194 139.5h1M197 139.5h1M200 139.5h1M202 139.5h3M208 139.5h4M213 139.5h1M154 140.5h1M156 140.5h2M159 140.5h1M177 140.5h6M194 140.5h1M196 140.5h5M203 140.5h2M206 140.5h2M209 140.5h3M213 140.5h1M154 141.5h1M156 141.5h3M160 141.5h1M177 141.5h1M179 141.5h3M194 141.5h2M197 141.5h2M202 141.5h4M208 141.5h4M154 142.5h1M156 142.5h1M159 142.5h1M177 142.5h3M182 142.5h1M193 142.5h10M204 142.5h3M208 142.5h2M211 142.5h3M153 143.5h1M155 143.5h5M177 143.5h6M193 143.5h1M195 143.5h2M198 143.5h1M201 143.5h5M207 143.5h1M209 143.5h3M213 143.5h1M154 144.5h2M158 144.5h1M177 144.5h3M181 144.5h2M194 144.5h6M201 144.5h2M204 144.5h3M209 144.5h1M211 144.5h1M154 145.5h5M177 145.5h5M192 145.5h1M197 145.5h3M202 145.5h2M205 145.5h2M208 145.5h1M210 145.5h3M153 146.5h2M156 146.5h3M178 146.5h2M181 146.5h2M192 146.5h1M194 146.5h1M196 146.5h1M198 146.5h2M201 146.5h1M203 146.5h5M210 146.5h1M212 146.5h2M153 147.5h1M155 147.5h2M158 147.5h1M178 147.5h2M181 147.5h1M194 147.5h1M196 147.5h2M202 147.5h11M154 148.5h1M157 148.5h2M178 148.5h5M193 148.5h1M196 148.5h2M199 148.5h1M201 148.5h3M205 148.5h1M207 148.5h5M214 148.5h1M153 149.5h8M178 149.5h3M182 149.5h1M193 149.5h1M195 149.5h1M197 149.5h8M206 149.5h8M152 150.5h7M177 150.5h1M179 150.5h1M182 150.5h2M192 150.5h1M195 150.5h3M199 150.5h1M201 150.5h6M208 150.5h1M210 150.5h1M212 150.5h2M154 151.5h1M156 151.5h3M178 151.5h3M182 151.5h2M192 151.5h5M198 151.5h1M200 151.5h1M205 151.5h3M210 151.5h1M212 151.5h1M154 152.5h4M178 152.5h6M193 152.5h1M196 152.5h3M200 152.5h2M203 152.5h3M210 152.5h3M153 153.5h1M156 153.5h3M176 153.5h1M178 153.5h4M192 153.5h1M195 153.5h8M204 153.5h2M207 153.5h4M212 153.5h1M156 154.5h3M177 154.5h7M195 154.5h1M197 154.5h11M210 154.5h2M213 154.5h1M153 155.5h1M155 155.5h3M159 155.5h1M177 155.5h5M193 155.5h1M195 155.5h1M198 155.5h3M202 155.5h3M207 155.5h3M211 155.5h4M156 156.5h3M179 156.5h4M192 156.5h2M196 156.5h2M199 156.5h7M208 156.5h2M211 156.5h4M153 157.5h5M178 157.5h5M191 157.5h1M193 157.5h3M198 157.5h1M201 157.5h1M203 157.5h4M209 157.5h3M213 157.5h1M154 158.5h2M157 158.5h1M178 158.5h2M181 158.5h1M183 158.5h1M190 158.5h3M194 158.5h4M199 158.5h4M204 158.5h1M206 158.5h4M153 159.5h2M157 159.5h1M178 159.5h2M181 159.5h2M184 159.5h1M191 159.5h2M195 159.5h2M198 159.5h1M200 159.5h1M202 159.5h1M207 159.5h4M212 159.5h1M155 160.5h4M178 160.5h6M192 160.5h1M194 160.5h1M197 160.5h1M199 160.5h5M205 160.5h4M212 160.5h1M154 161.5h4M178 161.5h2M182 161.5h1M191 161.5h1M195 161.5h1M197 161.5h1M199 161.5h1M203 161.5h1M205 161.5h3M209 161.5h1M211 161.5h3M154 162.5h4M178 162.5h3M184 162.5h1M189 162.5h5M195 162.5h3M199 162.5h3M203 162.5h4M210 162.5h1M155 163.5h3M178 163.5h5M190 163.5h4M195 163.5h8M204 163.5h2M207 163.5h5M153 164.5h4M178 164.5h4M183 164.5h3M189 164.5h1M192 164.5h7M200 164.5h1M202 164.5h1M204 164.5h1M207 164.5h1M153 165.5h1M155 165.5h4M178 165.5h4M189 165.5h4M194 165.5h8M205 165.5h2M208 165.5h2M153 166.5h1M155 166.5h3M178 166.5h2M181 166.5h2M184 166.5h1M186 166.5h1M188 166.5h1M190 166.5h1M194 166.5h1M198 166.5h2M201 166.5h2M207 166.5h5M153 167.5h4M178 167.5h2M181 167.5h2M185 167.5h1M188 167.5h1M190 167.5h2M193 167.5h2M197 167.5h2M200 167.5h1M202 167.5h2M205 167.5h1M207 167.5h1M210 167.5h1M153 168.5h6M178 168.5h5M185 168.5h1M188 168.5h1M190 168.5h2M194 168.5h4M200 168.5h11M156 169.5h2M178 169.5h2M182 169.5h2M185 169.5h7M194 169.5h2M197 169.5h1M200 169.5h2M203 169.5h1M205 169.5h3M209 169.5h2M155 170.5h5M177 170.5h2M180 170.5h8M190 170.5h10M201 170.5h1M205 170.5h1M207 170.5h2M210 170.5h2M153 171.5h3M157 171.5h1M178 171.5h6M185 171.5h1M188 171.5h3M192 171.5h2M195 171.5h3M200 171.5h3M205 171.5h1M207 171.5h3M157 172.5h3M177 172.5h2M180 172.5h2M183 172.5h3M189 172.5h1M191 172.5h12M206 172.5h5M153 173.5h4M158 173.5h2M178 173.5h1M180 173.5h3M184 173.5h2M187 173.5h7M195 173.5h5M201 173.5h2M206 173.5h3M210 173.5h1M153 174.5h1M155 174.5h4M178 174.5h17M197 174.5h3M201 174.5h3M205 174.5h3M210 174.5h2M153 175.5h1M156 175.5h3M178 175.5h5M184 175.5h9M194 175.5h8M203 175.5h3M210 175.5h1M154 176.5h1M156 176.5h4M178 176.5h15M194 176.5h5M202 176.5h3M207 176.5h2M210 176.5h1M153 177.5h2M156 177.5h5M178 177.5h3M182 177.5h7M193 177.5h1M195 177.5h1M197 177.5h1M199 177.5h3M203 177.5h4M208 177.5h1M154 178.5h6M179 178.5h2M183 178.5h2M186 178.5h1M188 178.5h1M192 178.5h10M203 178.5h5M210 178.5h1M154 179.5h1M156 179.5h1M158 179.5h3M180 179.5h3M185 179.5h1M191 179.5h1M193 179.5h11M208 179.5h2M154 180.5h5M160 180.5h1M162 180.5h1M179 180.5h2M192 180.5h1M194 180.5h13M208 180.5h2M155 181.5h1M157 181.5h5M194 181.5h4M199 181.5h3M205 181.5h4M154 182.5h1M157 182.5h5M194 182.5h6M201 182.5h2M204 182.5h4M154 183.5h5M160 183.5h2M196 183.5h1M198 183.5h3M203 183.5h1M206 183.5h2M209 183.5h1M155 184.5h8M178 184.5h1M196 184.5h8M205 184.5h1M207 184.5h1M209 184.5h1M156 185.5h2M159 185.5h3M196 185.5h1M200 185.5h4M207 185.5h1M155 186.5h8M196 186.5h2M199 186.5h2M202 186.5h2M205 186.5h1M207 186.5h1M154 187.5h2M157 187.5h1M159 187.5h3M197 187.5h7M206 187.5h1M157 188.5h3M161 188.5h2M196 188.5h5M202 188.5h2M205 188.5h3M156 189.5h1M159 189.5h5M197 189.5h8M207 189.5h1M157 190.5h3M161 190.5h4M196 190.5h5M203 190.5h3M157 191.5h4M163 191.5h2M197 191.5h9M155 192.5h1M158 192.5h2M161 192.5h5M197 192.5h7M157 193.5h4M164 193.5h2M197 193.5h2M200 193.5h1M202 193.5h1M205 193.5h2M156 194.5h1M159 194.5h2M162 194.5h2M165 194.5h1M197 194.5h4M204 194.5h2M156 195.5h1M158 195.5h7M166 195.5h1M197 195.5h10M159 196.5h2M162 196.5h2M165 196.5h2M196 196.5h4M201 196.5h3M157 197.5h2M160 197.5h8M197 197.5h3M203 197.5h1M88 198.5h1M132 198.5h1M135 198.5h1M158 198.5h6M166 198.5h1M196 198.5h5M202 198.5h1M81 199.5h6M91 199.5h3M123 199.5h1M128 199.5h7M138 199.5h1M140 199.5h1M144 199.5h1M158 199.5h1M160 199.5h4M165 199.5h3M197 199.5h1M199 199.5h3M79 200.5h3M83 200.5h3M87 200.5h2M90 200.5h2M95 200.5h3M101 200.5h1M109 200.5h1M118 200.5h1M122 200.5h1M124 200.5h1M127 200.5h1M129 200.5h1M132 200.5h1M135 200.5h1M137 200.5h5M143 200.5h1M146 200.5h1M155 200.5h1M158 200.5h6M166 200.5h3M196 200.5h1M201 200.5h2M77 201.5h1M79 201.5h3M84 201.5h2M87 201.5h1M89 201.5h1M91 201.5h2M94 201.5h1M97 201.5h1M99 201.5h1M108 201.5h1M110 201.5h1M118 201.5h2M122 201.5h1M124 201.5h6M131 201.5h3M135 201.5h5M143 201.5h4M159 201.5h5M165 201.5h3M196 201.5h1M198 201.5h1M200 201.5h3M73 202.5h1M76 202.5h4M81 202.5h10M92 202.5h2M95 202.5h7M103 202.5h2M106 202.5h1M108 202.5h1M111 202.5h5M117 202.5h1M119 202.5h7M127 202.5h3M131 202.5h3M136 202.5h2M139 202.5h3M144 202.5h2M147 202.5h2M150 202.5h1M155 202.5h1M157 202.5h2M160 202.5h4M165 202.5h2M196 202.5h2M199 202.5h4M72 203.5h1M74 203.5h3M79 203.5h2M82 203.5h12M95 203.5h2M99 203.5h7M107 203.5h5M114 203.5h1M116 203.5h2M119 203.5h3M123 203.5h3M127 203.5h2M131 203.5h4M136 203.5h1M138 203.5h2M141 203.5h2M144 203.5h5M153 203.5h7M161 203.5h7M196 203.5h5M202 203.5h1M70 204.5h6M77 204.5h2M80 204.5h9M90 204.5h8M100 204.5h1M103 204.5h9M116 204.5h3M123 204.5h1M125 204.5h3M130 204.5h2M133 204.5h5M140 204.5h1M143 204.5h3M147 204.5h3M152 204.5h1M154 204.5h8M164 204.5h1M166 204.5h2M196 204.5h1M198 204.5h1M200 204.5h2M70 205.5h1M73 205.5h1M75 205.5h4M80 205.5h5M86 205.5h1M88 205.5h11M100 205.5h2M105 205.5h2M108 205.5h2M111 205.5h2M114 205.5h2M117 205.5h1M119 205.5h2M122 205.5h3M127 205.5h2M130 205.5h1M132 205.5h4M137 205.5h4M146 205.5h10M157 205.5h3M161 205.5h1M163 205.5h2M166 205.5h1M195 205.5h3M199 205.5h1M69 206.5h1M71 206.5h1M73 206.5h6M81 206.5h3M85 206.5h1M88 206.5h2M92 206.5h10M103 206.5h1M105 206.5h4M110 206.5h8M119 206.5h3M123 206.5h2M129 206.5h1M132 206.5h15M148 206.5h17M167 206.5h1M195 206.5h5M69 207.5h10M90 207.5h1M93 207.5h6M100 207.5h3M104 207.5h4M110 207.5h6M118 207.5h2M122 207.5h2M125 207.5h1M127 207.5h2M130 207.5h7M138 207.5h5M144 207.5h1M148 207.5h6M157 207.5h3M161 207.5h2M164 207.5h4M195 207.5h3M67 208.5h1M69 208.5h2M72 208.5h4M94 208.5h11M106 208.5h4M113 208.5h1M117 208.5h1M121 208.5h5M127 208.5h10M138 208.5h1M140 208.5h1M142 208.5h1M144 208.5h2M147 208.5h1M152 208.5h2M156 208.5h4M161 208.5h2M164 208.5h3M197 208.5h3M66 209.5h1M68 209.5h7M97 209.5h6M104 209.5h11M117 209.5h13M132 209.5h9M142 209.5h4M147 209.5h4M152 209.5h3M156 209.5h2M159 209.5h1M161 209.5h3M195 209.5h1M197 209.5h1M66 210.5h3M70 210.5h1M72 210.5h2M99 210.5h13M113 210.5h19M133 210.5h2M137 210.5h5M143 210.5h2M146 210.5h1M148 210.5h6M155 210.5h2M159 210.5h1M161 210.5h6M195 210.5h5M65 211.5h5M71 211.5h2M100 211.5h1M104 211.5h10M115 211.5h7M124 211.5h2M128 211.5h1M130 211.5h3M134 211.5h1M136 211.5h5M143 211.5h4M148 211.5h1M150 211.5h1M152 211.5h9M163 211.5h2M195 211.5h5M63 212.5h4M68 212.5h3M101 212.5h1M103 212.5h4M109 212.5h9M119 212.5h6M126 212.5h6M134 212.5h2M137 212.5h1M140 212.5h5M146 212.5h3M150 212.5h4M155 212.5h6M163 212.5h2M194 212.5h1M197 212.5h3M62 213.5h1M65 213.5h6M103 213.5h6M110 213.5h3M115 213.5h8M124 213.5h3M128 213.5h17M146 213.5h6M153 213.5h1M155 213.5h10M194 213.5h3M62 214.5h1M64 214.5h7M105 214.5h5M111 214.5h5M118 214.5h4M123 214.5h12M137 214.5h3M141 214.5h1M143 214.5h1M146 214.5h9M156 214.5h8M194 214.5h3M61 215.5h4M66 215.5h3M108 215.5h11M120 215.5h12M133 215.5h5M139 215.5h3M143 215.5h2M146 215.5h7M154 215.5h1M158 215.5h3M162 215.5h2M194 215.5h4M63 216.5h1M65 216.5h3M110 216.5h2M113 216.5h8M123 216.5h2M127 216.5h9M137 216.5h3M141 216.5h3M146 216.5h1M148 216.5h5M154 216.5h8M163 216.5h1M194 216.5h4M61 217.5h1M63 217.5h5M108 217.5h1M110 217.5h12M123 217.5h4M128 217.5h3M132 217.5h10M144 217.5h8M156 217.5h4M161 217.5h2M194 217.5h2M197 217.5h1M59 218.5h1M62 218.5h2M65 218.5h1M111 218.5h5M117 218.5h2M120 218.5h13M134 218.5h1M136 218.5h1M139 218.5h2M142 218.5h3M146 218.5h5M152 218.5h8M162 218.5h1M193 218.5h2M197 218.5h1M59 219.5h3M63 219.5h3M112 219.5h2M115 219.5h3M119 219.5h15M135 219.5h19M155 219.5h7M194 219.5h2M58 220.5h1M62 220.5h4M111 220.5h1M113 220.5h2M116 220.5h5M122 220.5h3M128 220.5h1M130 220.5h4M136 220.5h5M142 220.5h3M146 220.5h3M151 220.5h4M156 220.5h3M193 220.5h4M58 221.5h8M113 221.5h2M116 221.5h3M121 221.5h2M124 221.5h7M132 221.5h15M148 221.5h5M154 221.5h5M160 221.5h2M193 221.5h2M196 221.5h1M57 222.5h1M60 222.5h3M114 222.5h1M117 222.5h2M120 222.5h13M134 222.5h15M150 222.5h2M153 222.5h5M159 222.5h1M193 222.5h3M59 223.5h6M117 223.5h2M120 223.5h6M127 223.5h4M134 223.5h10M145 223.5h1M147 223.5h6M154 223.5h2M157 223.5h2M160 223.5h1M193 223.5h2M196 223.5h1M57 224.5h1M61 224.5h3M115 224.5h8M125 224.5h8M134 224.5h1M136 224.5h1M138 224.5h4M143 224.5h3M147 224.5h4M152 224.5h4M157 224.5h2M193 224.5h3M57 225.5h1M59 225.5h4M114 225.5h2M117 225.5h11M129 225.5h2M132 225.5h8M141 225.5h7M149 225.5h7M157 225.5h2M59 226.5h1M61 226.5h1M118 226.5h3M122 226.5h4M127 226.5h8M136 226.5h5M142 226.5h17M192 226.5h4M58 227.5h5M116 227.5h1M119 227.5h5M126 227.5h4M131 227.5h1M134 227.5h9M144 227.5h7M152 227.5h4M192 227.5h1M194 227.5h2M56 228.5h2M60 228.5h3M115 228.5h1M117 228.5h2M120 228.5h4M125 228.5h2M128 228.5h6M135 228.5h7M143 228.5h2M146 228.5h5M152 228.5h7M194 228.5h1M55 229.5h1M58 229.5h3M115 229.5h1M117 229.5h5M123 229.5h1M125 229.5h1M127 229.5h1M129 229.5h6M136 229.5h10M147 229.5h2M150 229.5h6M193 229.5h2M57 230.5h4M114 230.5h2M117 230.5h8M126 230.5h3M130 230.5h2M134 230.5h7M143 230.5h2M146 230.5h10M192 230.5h2M56 231.5h6M117 231.5h1M119 231.5h3M123 231.5h5M129 231.5h2M133 231.5h14M148 231.5h2M151 231.5h6M191 231.5h1M193 231.5h2M55 232.5h3M59 232.5h3M114 232.5h1M117 232.5h6M124 232.5h4M129 232.5h2M132 232.5h6M139 232.5h3M143 232.5h1M145 232.5h4M150 232.5h6M157 232.5h1M193 232.5h1M58 233.5h4M115 233.5h1M118 233.5h8M127 233.5h9M137 233.5h3M141 233.5h15M191 233.5h2M194 233.5h1M57 234.5h4M116 234.5h14M131 234.5h5M137 234.5h1M139 234.5h3M143 234.5h1M145 234.5h6M152 234.5h4M190 234.5h2M193 234.5h1M56 235.5h1M58 235.5h3M116 235.5h3M120 235.5h1M122 235.5h9M132 235.5h4M137 235.5h1M139 235.5h7M147 235.5h9M191 235.5h1M57 236.5h4M116 236.5h3M121 236.5h2M124 236.5h8M135 236.5h10M146 236.5h10M157 236.5h1M190 236.5h2M55 237.5h2M58 237.5h2M114 237.5h4M119 237.5h4M124 237.5h4M129 237.5h10M141 237.5h5M147 237.5h2M150 237.5h7M189 237.5h4M57 238.5h2M60 238.5h1M112 238.5h1M115 238.5h4M120 238.5h29M150 238.5h6M189 238.5h3M55 239.5h1M57 239.5h2M113 239.5h15M129 239.5h1M131 239.5h3M135 239.5h10M147 239.5h1M149 239.5h9M189 239.5h4M54 240.5h7M113 240.5h3M117 240.5h4M122 240.5h2M126 240.5h7M134 240.5h2M137 240.5h2M141 240.5h2M144 240.5h2M147 240.5h1M149 240.5h5M155 240.5h3M189 240.5h2M55 241.5h2M58 241.5h3M112 241.5h4M117 241.5h3M121 241.5h2M125 241.5h1M130 241.5h6M137 241.5h1M139 241.5h1M141 241.5h18M189 241.5h2M56 242.5h1M58 242.5h2M111 242.5h2M114 242.5h1M116 242.5h2M119 242.5h3M124 242.5h2M128 242.5h1M130 242.5h1M132 242.5h11M145 242.5h3M149 242.5h1M151 242.5h7M188 242.5h3M55 243.5h4M60 243.5h1M111 243.5h4M117 243.5h4M122 243.5h1M124 243.5h2M128 243.5h3M132 243.5h7M140 243.5h4M145 243.5h1M149 243.5h1M153 243.5h3M157 243.5h1M190 243.5h1M56 244.5h5M110 244.5h10M122 244.5h5M129 244.5h1M131 244.5h1M133 244.5h5M139 244.5h2M142 244.5h5M150 244.5h9M188 244.5h3M55 245.5h6M110 245.5h7M118 245.5h8M127 245.5h2M130 245.5h6M137 245.5h3M141 245.5h3M146 245.5h4M151 245.5h8M187 245.5h2M190 245.5h1M55 246.5h6M109 246.5h10M120 246.5h4M125 246.5h1M127 246.5h8M137 246.5h5M143 246.5h3M148 246.5h4M153 246.5h6M187 246.5h4M55 247.5h2M58 247.5h3M108 247.5h4M113 247.5h1M116 247.5h5M122 247.5h2M126 247.5h1M128 247.5h3M132 247.5h3M137 247.5h2M141 247.5h3M146 247.5h2M149 247.5h1M151 247.5h2M154 247.5h3M158 247.5h1M188 247.5h2M56 248.5h1M58 248.5h2M108 248.5h1M110 248.5h2M113 248.5h10M124 248.5h1M126 248.5h1M128 248.5h5M135 248.5h3M140 248.5h2M145 248.5h2M148 248.5h2M155 248.5h1M158 248.5h2M186 248.5h4M57 249.5h2M60 249.5h1M108 249.5h6M115 249.5h1M118 249.5h7M126 249.5h4M145 249.5h1M147 249.5h1M150 249.5h2M154 249.5h1M156 249.5h2M159 249.5h1M56 250.5h1M58 250.5h1M60 250.5h1M107 250.5h7M117 250.5h1M121 250.5h1M125 250.5h1M149 250.5h1M151 250.5h8M160 250.5h1M186 250.5h1M188 250.5h1M56 251.5h5M106 251.5h1M108 251.5h3M117 251.5h1M153 251.5h3M157 251.5h3M185 251.5h3M57 252.5h4M106 252.5h4M111 252.5h2M114 252.5h2M149 252.5h1M155 252.5h6M185 252.5h1M58 253.5h4M106 253.5h3M110 253.5h4M152 253.5h2M159 253.5h1M185 253.5h3M57 254.5h5M104 254.5h1M106 254.5h1M108 254.5h2M111 254.5h2M152 254.5h1M154 254.5h4M159 254.5h3M184 254.5h2M187 254.5h1M57 255.5h5M104 255.5h7M153 255.5h9M184 255.5h3M57 256.5h1M59 256.5h1M61 256.5h1M104 256.5h5M110 256.5h3M153 256.5h1M155 256.5h1M157 256.5h1M159 256.5h4M183 256.5h4M56 257.5h1M59 257.5h4M104 257.5h6M155 257.5h2M158 257.5h5M183 257.5h2M58 258.5h1M60 258.5h3M105 258.5h2M108 258.5h3M155 258.5h5M161 258.5h1M183 258.5h3M57 259.5h1M59 259.5h4M102 259.5h7M155 259.5h1M157 259.5h2M160 259.5h3M182 259.5h2M57 260.5h1M59 260.5h5M102 260.5h4M108 260.5h1M155 260.5h7M181 260.5h1M183 260.5h2M58 261.5h2M61 261.5h2M101 261.5h1M103 261.5h2M106 261.5h1M108 261.5h1M156 261.5h1M158 261.5h1M160 261.5h3M181 261.5h3M58 262.5h3M62 262.5h2M103 262.5h1M105 262.5h2M155 262.5h2M158 262.5h3M162 262.5h2M180 262.5h3M59 263.5h3M63 263.5h1M101 263.5h4M106 263.5h1M154 263.5h2M157 263.5h2M160 263.5h4M180 263.5h4M59 264.5h6M100 264.5h2M104 264.5h1M155 264.5h1M157 264.5h5M181 264.5h3M61 265.5h5M100 265.5h5M156 265.5h2M159 265.5h1M162 265.5h1M178 265.5h2M181 265.5h1M61 266.5h2M64 266.5h2M99 266.5h1M101 266.5h1M103 266.5h3M157 266.5h4M162 266.5h1M179 266.5h3M60 267.5h2M63 267.5h4M98 267.5h4M103 267.5h1M157 267.5h2M160 267.5h3M164 267.5h1M177 267.5h5M62 268.5h2M65 268.5h3M97 268.5h3M101 268.5h1M103 268.5h1M157 268.5h8M177 268.5h4M62 269.5h5M97 269.5h1M99 269.5h1M101 269.5h3M160 269.5h5M176 269.5h1M178 269.5h3M63 270.5h5M95 270.5h2M98 270.5h5M157 270.5h3M161 270.5h5M175 270.5h4M62 271.5h2M65 271.5h3M69 271.5h1M94 271.5h1M96 271.5h1M99 271.5h1M101 271.5h2M158 271.5h10M175 271.5h1M177 271.5h1M63 272.5h2M66 272.5h4M100 272.5h2M159 272.5h2M163 272.5h2M166 272.5h2M170 272.5h1M172 272.5h5M178 272.5h2M65 273.5h2M68 273.5h4M92 273.5h4M99 273.5h3M161 273.5h7M171 273.5h3M178 273.5h1M65 274.5h2M68 274.5h3M72 274.5h1M92 274.5h5M99 274.5h1M159 274.5h1M162 274.5h1M165 274.5h5M172 274.5h1M174 274.5h4M65 275.5h9M89 275.5h5M98 275.5h1M159 275.5h1M161 275.5h1M163 275.5h9M173 275.5h5M67 276.5h1M69 276.5h1M71 276.5h6M88 276.5h1M90 276.5h1M93 276.5h4M160 276.5h3M164 276.5h4M169 276.5h2M172 276.5h3M66 277.5h3M70 277.5h11M82 277.5h1M86 277.5h3M90 277.5h4M95 277.5h1M163 277.5h9M175 277.5h1M68 278.5h3M72 278.5h2M75 278.5h2M80 278.5h1M82 278.5h4M87 278.5h8M96 278.5h1M161 278.5h1M164 278.5h2M167 278.5h2M171 278.5h3M69 279.5h3M73 279.5h4M78 279.5h1M80 279.5h1M82 279.5h2M85 279.5h1M87 279.5h6M94 279.5h1M163 279.5h1M165 279.5h1M167 279.5h3M171 279.5h3M70 280.5h2M73 280.5h4M79 280.5h13M166 280.5h7M72 281.5h1M74 281.5h1M76 281.5h2M79 281.5h13M164 281.5h2M168 281.5h2M172 281.5h1M73 282.5h6M80 282.5h9M167 282.5h1M169 282.5h2M77 283.5h4M85 283.5h4M79 284.5h1M81 284.5h3M82 285.5h1" stroke="#4862c2" stroke-width="1" fill="none"/><path d="M169 113.5h2M168 114.5h2M171 114.5h1M167 115.5h1M169 115.5h3M166 116.5h7M165 117.5h8M166 118.5h7M165 119.5h8M165 120.5h1M167 120.5h4M173 120.5h1M164 121.5h1M166 121.5h8M165 122.5h4M170 122.5h4M164 123.5h5M171 123.5h3M163 124.5h5M171 124.5h3M163 125.5h4M172 125.5h2M163 126.5h5M172 126.5h2M175 126.5h1M163 127.5h2M166 127.5h1M171 127.5h4M162 128.5h5M172 128.5h3M162 129.5h5M173 129.5h1M162 130.5h4M173 130.5h2M161 131.5h1M163 131.5h3M173 131.5h3M162 132.5h1M164 132.5h1M173 132.5h4M161 133.5h6M172 133.5h4M161 134.5h5M174 134.5h2M162 135.5h1M164 135.5h2M174 135.5h2M160 136.5h6M173 136.5h4M160 137.5h5M173 137.5h4M161 138.5h4M173 138.5h3M160 139.5h2M163 139.5h2M174 139.5h3M160 140.5h5M173 140.5h3M159 141.5h1M161 141.5h4M175 141.5h2M160 142.5h1M162 142.5h3M174 142.5h3M160 143.5h5M173 143.5h4M161 144.5h4M173 144.5h4M159 145.5h6M174 145.5h3M159 146.5h6M174 146.5h4M159 147.5h2M162 147.5h2M165 147.5h1M174 147.5h4M159 148.5h6M174 148.5h3M161 149.5h4M174 149.5h4M159 150.5h2M162 150.5h3M174 150.5h3M159 151.5h6M174 151.5h4M158 152.5h7M174 152.5h1M176 152.5h2M159 153.5h4M175 153.5h1M177 153.5h1M159 154.5h3M163 154.5h2M174 154.5h3M158 155.5h1M160 155.5h4M173 155.5h4M159 156.5h6M173 156.5h4M158 157.5h7M174 157.5h4M158 158.5h7M174 158.5h2M177 158.5h1M158 159.5h7M173 159.5h5M159 160.5h1M161 160.5h4M174 160.5h2M177 160.5h1M161 161.5h3M165 161.5h1M174 161.5h2M177 161.5h1M159 162.5h7M174 162.5h4M158 163.5h2M161 163.5h3M174 163.5h4M158 164.5h7M174 164.5h4M160 165.5h6M173 165.5h5M159 166.5h7M173 166.5h4M160 167.5h5M166 167.5h1M173 167.5h3M177 167.5h1M159 168.5h8M172 168.5h6M158 169.5h8M173 169.5h5M160 170.5h6M173 170.5h4M159 171.5h3M163 171.5h2M174 171.5h4M160 172.5h6M173 172.5h4M160 173.5h5M172 173.5h6M159 174.5h1M161 174.5h5M170 174.5h1M172 174.5h6M160 175.5h6M172 175.5h6M160 176.5h7M172 176.5h6M161 177.5h1M163 177.5h5M171 177.5h7M161 178.5h7M172 178.5h7M185 178.5h1M187 178.5h1M190 178.5h1M161 179.5h6M168 179.5h1M172 179.5h3M176 179.5h2M179 179.5h1M186 179.5h2M189 179.5h2M192 179.5h1M163 180.5h16M181 180.5h1M183 180.5h3M187 180.5h4M193 180.5h1M162 181.5h1M164 181.5h5M170 181.5h4M175 181.5h6M182 181.5h2M185 181.5h9M162 182.5h8M171 182.5h4M176 182.5h2M179 182.5h15M162 183.5h2M165 183.5h21M187 183.5h9M163 184.5h2M166 184.5h4M171 184.5h7M179 184.5h1M181 184.5h13M195 184.5h1M162 185.5h1M164 185.5h1M166 185.5h6M173 185.5h20M195 185.5h1M164 186.5h10M175 186.5h11M188 186.5h1M190 186.5h4M195 186.5h1M163 187.5h6M170 187.5h14M189 187.5h3M193 187.5h3M164 188.5h11M176 188.5h6M190 188.5h6M165 189.5h2M168 189.5h14M191 189.5h6M165 190.5h1M167 190.5h4M172 190.5h4M177 190.5h2M192 190.5h4M166 191.5h7M174 191.5h7M192 191.5h2M195 191.5h2M166 192.5h12M194 192.5h3M166 193.5h2M169 193.5h9M192 193.5h3M166 194.5h4M171 194.5h6M193 194.5h4M167 195.5h10M193 195.5h2M167 196.5h9M193 196.5h3M168 197.5h2M171 197.5h5M192 197.5h2M195 197.5h1M167 198.5h4M172 198.5h4M193 198.5h3M168 199.5h7M192 199.5h5M169 200.5h6M193 200.5h3M168 201.5h1M170 201.5h5M193 201.5h3M168 202.5h6M193 202.5h3M168 203.5h4M173 203.5h1M193 203.5h3M168 204.5h6M193 204.5h1M195 204.5h1M168 205.5h5M193 205.5h2M84 206.5h1M86 206.5h2M91 206.5h1M168 206.5h5M192 206.5h3M80 207.5h10M92 207.5h1M168 207.5h5M193 207.5h2M77 208.5h5M83 208.5h11M167 208.5h5M193 208.5h2M75 209.5h16M93 209.5h1M95 209.5h2M166 209.5h1M168 209.5h3M192 209.5h3M74 210.5h2M77 210.5h21M167 210.5h4M192 210.5h3M73 211.5h1M75 211.5h7M83 211.5h3M88 211.5h11M166 211.5h4M192 211.5h2M72 212.5h1M74 212.5h4M79 212.5h1M85 212.5h1M90 212.5h3M94 212.5h3M98 212.5h3M166 212.5h1M168 212.5h2M192 212.5h2M71 213.5h4M76 213.5h2M89 213.5h1M91 213.5h1M93 213.5h10M165 213.5h5M192 213.5h2M71 214.5h5M93 214.5h1M95 214.5h8M104 214.5h1M164 214.5h6M192 214.5h2M69 215.5h6M96 215.5h11M164 215.5h6M192 215.5h2M68 216.5h6M97 216.5h13M162 216.5h1M164 216.5h4M192 216.5h2M68 217.5h1M70 217.5h4M97 217.5h1M99 217.5h3M103 217.5h5M109 217.5h1M163 217.5h6M192 217.5h2M66 218.5h5M100 218.5h7M108 218.5h3M161 218.5h1M164 218.5h4M192 218.5h1M68 219.5h3M101 219.5h3M105 219.5h2M108 219.5h2M111 219.5h1M164 219.5h1M167 219.5h1M191 219.5h3M66 220.5h4M101 220.5h8M110 220.5h1M112 220.5h1M115 220.5h1M125 220.5h1M127 220.5h1M160 220.5h7M191 220.5h2M67 221.5h3M102 221.5h5M108 221.5h5M162 221.5h6M191 221.5h2M65 222.5h4M102 222.5h2M105 222.5h5M111 222.5h3M115 222.5h2M161 222.5h6M191 222.5h2M65 223.5h4M103 223.5h11M115 223.5h1M119 223.5h1M161 223.5h5M191 223.5h2M64 224.5h4M103 224.5h12M159 224.5h8M191 224.5h2M63 225.5h5M103 225.5h8M112 225.5h2M116 225.5h1M156 225.5h1M159 225.5h7M190 225.5h3M63 226.5h4M103 226.5h6M110 226.5h5M116 226.5h2M159 226.5h7M190 226.5h2M63 227.5h4M104 227.5h1M106 227.5h6M113 227.5h1M115 227.5h1M156 227.5h9M190 227.5h2M63 228.5h4M105 228.5h10M116 228.5h1M159 228.5h6M190 228.5h2M62 229.5h3M104 229.5h1M106 229.5h7M114 229.5h1M116 229.5h1M157 229.5h8M189 229.5h3M63 230.5h3M105 230.5h7M113 230.5h1M156 230.5h2M159 230.5h2M162 230.5h2M189 230.5h2M62 231.5h3M105 231.5h10M157 231.5h8M189 231.5h2M62 232.5h4M106 232.5h7M115 232.5h1M156 232.5h1M159 232.5h5M189 232.5h2M62 233.5h3M105 233.5h2M108 233.5h7M116 233.5h1M156 233.5h9M189 233.5h1M61 234.5h3M105 234.5h7M113 234.5h3M156 234.5h9M188 234.5h2M62 235.5h3M105 235.5h8M114 235.5h2M157 235.5h8M188 235.5h2M61 236.5h3M106 236.5h4M111 236.5h5M156 236.5h1M158 236.5h6M187 236.5h3M60 237.5h4M106 237.5h6M157 237.5h8M188 237.5h1M61 238.5h1M104 238.5h8M113 238.5h2M157 238.5h7M188 238.5h1M61 239.5h3M106 239.5h7M158 239.5h6M187 239.5h2M61 240.5h3M105 240.5h8M158 240.5h7M187 240.5h1M61 241.5h1M63 241.5h1M105 241.5h7M160 241.5h4M187 241.5h2M61 242.5h4M105 242.5h6M158 242.5h6M186 242.5h2M61 243.5h3M105 243.5h3M110 243.5h1M158 243.5h6M186 243.5h2M61 244.5h3M104 244.5h1M106 244.5h4M160 244.5h5M186 244.5h2M61 245.5h3M105 245.5h3M109 245.5h1M159 245.5h4M164 245.5h1M185 245.5h2M62 246.5h2M103 246.5h5M159 246.5h2M162 246.5h2M185 246.5h2M61 247.5h4M104 247.5h4M159 247.5h3M163 247.5h2M185 247.5h2M61 248.5h3M104 248.5h3M160 248.5h5M61 249.5h1M63 249.5h1M103 249.5h5M160 249.5h4M185 249.5h1M61 250.5h4M102 250.5h4M161 250.5h4M184 250.5h2M62 251.5h2M101 251.5h5M160 251.5h6M183 251.5h2M61 252.5h4M101 252.5h5M161 252.5h4M183 252.5h2M62 253.5h3M101 253.5h2M104 253.5h2M160 253.5h6M182 253.5h2M62 254.5h4M101 254.5h3M105 254.5h1M163 254.5h3M182 254.5h2M63 255.5h4M100 255.5h4M162 255.5h4M181 255.5h3M62 256.5h1M64 256.5h2M100 256.5h4M163 256.5h4M181 256.5h2M63 257.5h1M65 257.5h2M99 257.5h3M103 257.5h1M163 257.5h3M181 257.5h2M63 258.5h2M99 258.5h4M162 258.5h5M180 258.5h3M63 259.5h4M98 259.5h4M163 259.5h3M179 259.5h3M64 260.5h4M97 260.5h5M162 260.5h1M164 260.5h3M179 260.5h2M64 261.5h4M97 261.5h4M164 261.5h3M178 261.5h3M65 262.5h3M97 262.5h3M101 262.5h1M164 262.5h3M178 262.5h1M64 263.5h5M96 263.5h4M164 263.5h4M177 263.5h3M65 264.5h5M95 264.5h5M164 264.5h5M176 264.5h4M66 265.5h4M94 265.5h3M98 265.5h2M164 265.5h4M169 265.5h1M174 265.5h4M66 266.5h3M70 266.5h1M94 266.5h5M164 266.5h6M172 266.5h7M68 267.5h2M71 267.5h1M94 267.5h3M165 267.5h12M68 268.5h4M92 268.5h5M165 268.5h12M68 269.5h5M91 269.5h6M165 269.5h11M70 270.5h7M90 270.5h5M166 270.5h6M173 270.5h2M70 271.5h1M72 271.5h5M88 271.5h5M168 271.5h5M174 271.5h1M71 272.5h8M83 272.5h1M85 272.5h9M168 272.5h2M73 273.5h3M77 273.5h14M168 273.5h3M73 274.5h16M90 274.5h2M75 275.5h14M77 276.5h11M81 277.5h1M83 277.5h2" stroke="#416acc" stroke-width="1" fill="none"/><path d="M169 122.5h1M169 123.5h2M168 124.5h3M167 125.5h5M168 126.5h1M170 126.5h2M167 127.5h4M167 128.5h5M167 129.5h6M166 130.5h7M166 131.5h7M166 132.5h7M167 133.5h5M166 134.5h7M166 135.5h2M170 135.5h4M166 136.5h7M165 137.5h5M171 137.5h2M165 138.5h4M171 138.5h2M165 139.5h3M170 139.5h4M165 140.5h5M171 140.5h2M165 141.5h2M168 141.5h1M171 141.5h3M165 142.5h3M170 142.5h4M165 143.5h3M170 143.5h3M165 144.5h3M171 144.5h2M165 145.5h3M171 145.5h3M166 146.5h1M171 146.5h3M164 147.5h1M166 147.5h2M171 147.5h3M165 148.5h2M171 148.5h3M165 149.5h3M170 149.5h1M172 149.5h2M165 150.5h3M171 150.5h3M165 151.5h3M170 151.5h4M165 152.5h3M172 152.5h2M164 153.5h4M170 153.5h5M165 154.5h3M170 154.5h4M164 155.5h5M170 155.5h2M165 156.5h3M170 156.5h3M165 157.5h4M170 157.5h4M165 158.5h2M171 158.5h3M165 159.5h1M167 159.5h1M169 159.5h1M171 159.5h2M165 160.5h3M169 160.5h5M164 161.5h1M166 161.5h8M166 162.5h3M170 162.5h4M166 163.5h3M171 163.5h3M165 164.5h8M166 165.5h7M166 166.5h7M165 167.5h1M167 167.5h6M167 168.5h1M169 168.5h3M166 169.5h7M166 170.5h7M165 171.5h9M166 172.5h7M165 173.5h7M166 174.5h4M171 174.5h1M166 175.5h6M167 176.5h5M168 177.5h3M168 178.5h4M167 179.5h1M169 179.5h3M169 181.5h1M186 186.5h2M189 186.5h1M184 187.5h5M182 188.5h8M182 189.5h9M180 190.5h12M181 191.5h4M186 191.5h6M178 192.5h6M185 192.5h1M187 192.5h6M178 193.5h5M188 193.5h4M177 194.5h6M189 194.5h4M177 195.5h6M189 195.5h4M176 196.5h5M190 196.5h3M176 197.5h3M190 197.5h2M176 198.5h3M189 198.5h4M175 199.5h3M189 199.5h3M175 200.5h3M190 200.5h3M175 201.5h3M190 201.5h3M174 202.5h3M189 202.5h4M174 203.5h3M190 203.5h3M174 204.5h3M191 204.5h1M173 205.5h2M191 205.5h2M173 206.5h2M191 206.5h1M173 207.5h2M190 207.5h3M172 208.5h3M191 208.5h2M171 209.5h4M191 209.5h1M171 210.5h3M191 210.5h1M82 211.5h1M86 211.5h2M170 211.5h4M190 211.5h2M78 212.5h1M80 212.5h5M86 212.5h4M170 212.5h3M191 212.5h1M78 213.5h11M90 213.5h1M92 213.5h1M170 213.5h3M190 213.5h2M76 214.5h17M94 214.5h1M170 214.5h2M190 214.5h2M75 215.5h21M170 215.5h3M190 215.5h2M74 216.5h2M77 216.5h3M89 216.5h8M168 216.5h4M190 216.5h2M74 217.5h4M81 217.5h1M91 217.5h6M98 217.5h1M170 217.5h2M190 217.5h2M72 218.5h4M77 218.5h1M90 218.5h1M92 218.5h1M94 218.5h6M168 218.5h3M190 218.5h1M71 219.5h6M94 219.5h7M168 219.5h2M190 219.5h1M70 220.5h5M95 220.5h6M167 220.5h4M190 220.5h1M70 221.5h4M95 221.5h7M168 221.5h3M189 221.5h2M69 222.5h3M96 222.5h5M167 222.5h3M189 222.5h2M69 223.5h3M97 223.5h6M166 223.5h4M190 223.5h1M68 224.5h3M98 224.5h5M167 224.5h2M189 224.5h2M68 225.5h2M99 225.5h4M166 225.5h4M189 225.5h1M67 226.5h4M99 226.5h4M166 226.5h4M189 226.5h1M67 227.5h3M99 227.5h5M165 227.5h4M189 227.5h1M67 228.5h3M100 228.5h5M167 228.5h1M189 228.5h1M66 229.5h3M100 229.5h4M105 229.5h1M165 229.5h3M188 229.5h1M66 230.5h3M101 230.5h4M164 230.5h5M188 230.5h1M65 231.5h3M100 231.5h5M165 231.5h3M188 231.5h1M66 232.5h2M100 232.5h3M104 232.5h2M164 232.5h4M187 232.5h2M65 233.5h2M100 233.5h1M102 233.5h3M165 233.5h3M187 233.5h2M64 234.5h4M100 234.5h5M165 234.5h3M187 234.5h1M65 235.5h3M101 235.5h4M165 235.5h3M187 235.5h1M64 236.5h3M101 236.5h5M164 236.5h3M65 237.5h3M101 237.5h5M165 237.5h3M187 237.5h1M64 238.5h3M101 238.5h3M164 238.5h3M186 238.5h1M64 239.5h3M101 239.5h5M164 239.5h4M186 239.5h1M64 240.5h3M100 240.5h5M165 240.5h2M186 240.5h1M64 241.5h4M101 241.5h4M164 241.5h3M185 241.5h1M65 242.5h3M101 242.5h4M164 242.5h3M184 242.5h2M64 243.5h4M101 243.5h4M164 243.5h4M184 243.5h2M64 244.5h1M100 244.5h4M165 244.5h2M184 244.5h2M64 245.5h3M101 245.5h3M165 245.5h2M184 245.5h1M64 246.5h3M100 246.5h3M164 246.5h4M183 246.5h2M65 247.5h2M100 247.5h4M165 247.5h2M183 247.5h2M64 248.5h3M99 248.5h5M165 248.5h2M183 248.5h2M64 249.5h3M100 249.5h3M164 249.5h4M182 249.5h2M65 250.5h3M99 250.5h3M165 250.5h3M182 250.5h2M64 251.5h5M99 251.5h2M166 251.5h2M182 251.5h1M65 252.5h3M98 252.5h3M165 252.5h3M181 252.5h2M65 253.5h3M98 253.5h1M100 253.5h1M166 253.5h3M180 253.5h2M66 254.5h2M97 254.5h4M166 254.5h3M180 254.5h2M67 255.5h2M96 255.5h2M99 255.5h1M166 255.5h3M179 255.5h2M66 256.5h4M97 256.5h3M167 256.5h2M178 256.5h3M67 257.5h3M96 257.5h3M166 257.5h4M178 257.5h3M66 258.5h3M94 258.5h1M96 258.5h3M167 258.5h3M171 258.5h1M177 258.5h3M67 259.5h3M95 259.5h3M166 259.5h4M176 259.5h3M68 260.5h3M94 260.5h3M167 260.5h3M174 260.5h1M176 260.5h3M68 261.5h4M93 261.5h4M167 261.5h3M171 261.5h7M68 262.5h1M70 262.5h1M93 262.5h4M167 262.5h11M69 263.5h3M92 263.5h4M168 263.5h9M70 264.5h3M75 264.5h1M91 264.5h4M169 264.5h7M70 265.5h4M90 265.5h4M170 265.5h4M71 266.5h5M90 266.5h4M170 266.5h2M72 267.5h7M87 267.5h7M72 268.5h12M87 268.5h5M73 269.5h18M77 270.5h13M77 271.5h11M79 272.5h4M84 272.5h1" stroke="#4a8ed8" stroke-width="1" fill="none"/><path d="M168 135.5h2M170 137.5h1M169 138.5h2M168 139.5h2M170 140.5h1M167 141.5h1M169 141.5h2M168 142.5h2M168 143.5h2M168 144.5h3M168 145.5h3M167 146.5h4M168 147.5h3M167 148.5h4M168 149.5h2M171 149.5h1M168 150.5h3M168 151.5h2M168 152.5h4M168 153.5h2M168 154.5h2M169 155.5h1M168 156.5h2M169 157.5h1M167 158.5h4M168 159.5h1M170 159.5h1M168 160.5h1M169 162.5h1M169 163.5h2M185 191.5h1M184 192.5h1M186 192.5h1M183 193.5h5M183 194.5h6M183 195.5h6M181 196.5h9M179 197.5h5M186 197.5h4M179 198.5h3M183 198.5h2M186 198.5h3M178 199.5h4M187 199.5h2M178 200.5h3M187 200.5h1M189 200.5h1M178 201.5h3M188 201.5h2M177 202.5h3M188 202.5h1M177 203.5h2M189 203.5h1M177 204.5h2M189 204.5h2M175 205.5h3M188 205.5h3M175 206.5h2M189 206.5h2M175 207.5h3M189 207.5h1M175 208.5h2M189 208.5h2M175 209.5h2M189 209.5h2M174 210.5h2M188 210.5h3M174 211.5h2M189 211.5h1M173 212.5h2M189 212.5h2M173 213.5h2M189 213.5h1M172 214.5h3M189 214.5h1M173 215.5h1M189 215.5h1M80 216.5h9M172 216.5h2M189 216.5h1M78 217.5h3M82 217.5h1M84 217.5h7M172 217.5h2M188 217.5h2M76 218.5h1M78 218.5h12M91 218.5h1M93 218.5h1M171 218.5h2M188 218.5h2M77 219.5h5M83 219.5h1M85 219.5h9M170 219.5h3M188 219.5h2M75 220.5h7M85 220.5h1M88 220.5h1M90 220.5h5M171 220.5h2M188 220.5h2M74 221.5h5M86 221.5h1M88 221.5h1M92 221.5h3M171 221.5h1M188 221.5h1M72 222.5h5M79 222.5h1M93 222.5h3M170 222.5h2M188 222.5h1M72 223.5h4M93 223.5h4M170 223.5h2M188 223.5h2M71 224.5h5M94 224.5h4M169 224.5h3M188 224.5h1M70 225.5h5M94 225.5h5M170 225.5h2M188 225.5h1M71 226.5h3M95 226.5h4M170 226.5h1M187 226.5h2M70 227.5h3M95 227.5h4M169 227.5h2M187 227.5h2M70 228.5h3M96 228.5h4M168 228.5h3M187 228.5h2M69 229.5h3M97 229.5h3M168 229.5h3M186 229.5h2M69 230.5h4M97 230.5h4M169 230.5h1M186 230.5h2M68 231.5h3M97 231.5h3M168 231.5h2M186 231.5h2M68 232.5h3M97 232.5h3M168 232.5h3M186 232.5h1M67 233.5h5M97 233.5h3M101 233.5h1M168 233.5h2M186 233.5h1M68 234.5h2M96 234.5h4M168 234.5h2M186 234.5h1M68 235.5h2M98 235.5h3M168 235.5h2M185 235.5h2M67 236.5h3M98 236.5h3M167 236.5h3M185 236.5h2M68 237.5h2M98 237.5h3M168 237.5h2M185 237.5h2M67 238.5h3M98 238.5h3M167 238.5h2M185 238.5h1M67 239.5h3M98 239.5h3M168 239.5h2M184 239.5h2M67 240.5h2M99 240.5h1M167 240.5h3M184 240.5h2M68 241.5h2M98 241.5h3M167 241.5h2M183 241.5h2M68 242.5h1M99 242.5h2M167 242.5h3M183 242.5h1M68 243.5h2M98 243.5h3M168 243.5h1M183 243.5h1M66 244.5h3M98 244.5h2M167 244.5h2M182 244.5h2M67 245.5h3M97 245.5h4M167 245.5h3M182 245.5h2M67 246.5h3M98 246.5h2M168 246.5h2M182 246.5h1M67 247.5h2M97 247.5h3M167 247.5h3M181 247.5h2M67 248.5h3M97 248.5h2M167 248.5h2M181 248.5h2M67 249.5h3M97 249.5h3M168 249.5h3M179 249.5h3M68 250.5h2M96 250.5h3M168 250.5h3M179 250.5h3M69 251.5h2M95 251.5h4M168 251.5h3M179 251.5h3M68 252.5h3M96 252.5h2M168 252.5h2M178 252.5h3M68 253.5h3M95 253.5h3M169 253.5h2M177 253.5h3M68 254.5h3M94 254.5h3M169 254.5h2M173 254.5h1M177 254.5h2M69 255.5h2M93 255.5h3M169 255.5h3M176 255.5h3M70 256.5h2M93 256.5h4M169 256.5h4M175 256.5h3M70 257.5h3M93 257.5h3M170 257.5h8M69 258.5h4M91 258.5h3M95 258.5h1M170 258.5h1M172 258.5h5M70 259.5h4M89 259.5h1M91 259.5h4M171 259.5h5M71 260.5h3M90 260.5h4M170 260.5h4M175 260.5h1M72 261.5h4M89 261.5h4M170 261.5h1M71 262.5h6M87 262.5h1M89 262.5h4M72 263.5h4M88 263.5h4M73 264.5h2M76 264.5h3M80 264.5h1M83 264.5h1M85 264.5h6M74 265.5h7M82 265.5h8M76 266.5h14M79 267.5h8M84 268.5h3" stroke="#44b8a8" stroke-width="1" fill="none"/><path d="M184 197.5h2M182 198.5h1M185 198.5h1M182 199.5h5M181 200.5h6M188 200.5h1M181 201.5h7M180 202.5h8M179 203.5h4M184 203.5h5M179 204.5h4M185 204.5h4M178 205.5h4M186 205.5h2M177 206.5h4M186 206.5h3M178 207.5h2M186 207.5h3M177 208.5h3M186 208.5h3M177 209.5h2M187 209.5h2M176 210.5h3M187 210.5h1M176 211.5h2M186 211.5h3M175 212.5h3M186 212.5h3M175 213.5h2M187 213.5h2M175 214.5h1M187 214.5h2M174 215.5h2M186 215.5h3M174 216.5h2M187 216.5h2M174 217.5h1M187 217.5h1M173 218.5h2M187 218.5h1M82 219.5h1M84 219.5h1M173 219.5h2M186 219.5h2M82 220.5h3M86 220.5h2M89 220.5h1M173 220.5h2M186 220.5h2M79 221.5h7M87 221.5h1M89 221.5h3M172 221.5h3M187 221.5h1M77 222.5h2M80 222.5h13M172 222.5h2M186 222.5h2M76 223.5h17M172 223.5h2M186 223.5h2M76 224.5h5M86 224.5h8M172 224.5h1M186 224.5h2M75 225.5h6M88 225.5h6M172 225.5h1M186 225.5h2M74 226.5h4M79 226.5h1M82 226.5h1M90 226.5h5M171 226.5h2M186 226.5h1M73 227.5h4M89 227.5h6M171 227.5h2M185 227.5h2M73 228.5h3M92 228.5h4M171 228.5h1M186 228.5h1M72 229.5h3M76 229.5h1M93 229.5h4M171 229.5h2M185 229.5h1M73 230.5h2M92 230.5h5M170 230.5h2M185 230.5h1M71 231.5h3M92 231.5h1M94 231.5h3M170 231.5h3M184 231.5h2M71 232.5h4M93 232.5h4M171 232.5h2M185 232.5h1M72 233.5h3M95 233.5h2M170 233.5h2M185 233.5h1M70 234.5h4M95 234.5h1M170 234.5h2M184 234.5h2M70 235.5h4M95 235.5h3M170 235.5h2M183 235.5h2M70 236.5h3M95 236.5h3M170 236.5h1M183 236.5h2M70 237.5h4M94 237.5h4M170 237.5h2M183 237.5h2M70 238.5h3M94 238.5h4M169 238.5h3M183 238.5h2M70 239.5h3M94 239.5h4M170 239.5h1M183 239.5h1M69 240.5h2M94 240.5h5M170 240.5h1M180 240.5h1M182 240.5h2M70 241.5h3M95 241.5h3M169 241.5h2M182 241.5h1M69 242.5h3M95 242.5h4M170 242.5h2M181 242.5h2M70 243.5h2M94 243.5h4M169 243.5h2M180 243.5h3M69 244.5h4M93 244.5h5M169 244.5h3M180 244.5h2M70 245.5h3M94 245.5h3M170 245.5h2M180 245.5h2M70 246.5h2M94 246.5h4M170 246.5h2M179 246.5h3M69 247.5h3M92 247.5h1M94 247.5h3M170 247.5h3M177 247.5h4M70 248.5h4M94 248.5h3M169 248.5h4M178 248.5h3M70 249.5h3M93 249.5h4M171 249.5h2M175 249.5h4M70 250.5h3M93 250.5h3M171 250.5h8M71 251.5h3M92 251.5h3M171 251.5h8M71 252.5h2M74 252.5h1M91 252.5h5M170 252.5h8M71 253.5h4M90 253.5h1M92 253.5h3M171 253.5h6M71 254.5h4M91 254.5h3M171 254.5h2M174 254.5h3M71 255.5h5M91 255.5h2M172 255.5h4M72 256.5h5M87 256.5h1M90 256.5h3M173 256.5h2M73 257.5h5M89 257.5h4M73 258.5h6M84 258.5h1M88 258.5h3M74 259.5h5M81 259.5h1M83 259.5h1M86 259.5h3M90 259.5h1M74 260.5h7M82 260.5h1M84 260.5h1M86 260.5h4M76 261.5h13M77 262.5h10M88 262.5h1M76 263.5h12M79 264.5h1M81 264.5h2M84 264.5h1M81 265.5h1" stroke="#64c45a" stroke-width="1" fill="none"/><path d="M183 203.5h1M183 204.5h2M182 205.5h4M181 206.5h5M180 207.5h3M184 207.5h2M180 208.5h4M185 208.5h1M179 209.5h4M184 209.5h3M179 210.5h1M182 210.5h1M185 210.5h2M178 211.5h2M185 211.5h1M178 212.5h1M180 212.5h1M185 212.5h1M177 213.5h2M184 213.5h1M186 213.5h1M176 214.5h2M186 214.5h1M176 215.5h2M185 215.5h1M176 216.5h1M185 216.5h2M175 217.5h2M185 217.5h2M175 218.5h2M185 218.5h2M175 219.5h2M185 219.5h1M175 220.5h1M184 220.5h2M175 221.5h1M185 221.5h2M174 222.5h1M185 222.5h1M174 223.5h1M185 223.5h1M81 224.5h5M173 224.5h2M185 224.5h1M81 225.5h7M173 225.5h2M184 225.5h2M78 226.5h1M80 226.5h2M83 226.5h7M173 226.5h2M185 226.5h1M77 227.5h5M83 227.5h6M173 227.5h2M184 227.5h1M76 228.5h7M86 228.5h6M172 228.5h2M184 228.5h2M75 229.5h1M77 229.5h2M85 229.5h1M89 229.5h4M173 229.5h1M184 229.5h1M75 230.5h3M86 230.5h1M89 230.5h3M172 230.5h2M184 230.5h1M74 231.5h3M90 231.5h2M93 231.5h1M183 231.5h1M75 232.5h2M89 232.5h4M173 232.5h1M184 232.5h1M77 233.5h1M91 233.5h4M172 233.5h2M183 233.5h2M74 234.5h1M76 234.5h1M91 234.5h4M172 234.5h2M182 234.5h2M74 235.5h1M92 235.5h3M172 235.5h1M73 236.5h2M92 236.5h3M171 236.5h2M182 236.5h1M74 237.5h1M92 237.5h2M172 237.5h1M182 237.5h1M73 238.5h3M93 238.5h1M172 238.5h2M182 238.5h1M73 239.5h1M93 239.5h1M171 239.5h1M181 239.5h2M71 240.5h3M92 240.5h2M171 240.5h3M181 240.5h1M73 241.5h1M92 241.5h3M171 241.5h2M181 241.5h1M72 242.5h3M92 242.5h3M172 242.5h1M180 242.5h1M72 243.5h2M75 243.5h1M91 243.5h3M171 243.5h3M178 243.5h2M73 244.5h2M92 244.5h1M172 244.5h3M177 244.5h3M73 245.5h1M91 245.5h3M172 245.5h6M179 245.5h1M72 246.5h2M92 246.5h2M172 246.5h3M176 246.5h3M72 247.5h3M93 247.5h1M173 247.5h4M74 248.5h3M91 248.5h3M173 248.5h5M73 249.5h2M89 249.5h1M91 249.5h2M173 249.5h2M73 250.5h3M91 250.5h2M74 251.5h2M88 251.5h1M90 251.5h2M73 252.5h1M76 252.5h1M87 252.5h2M90 252.5h1M75 253.5h3M89 253.5h1M91 253.5h1M75 254.5h2M79 254.5h1M84 254.5h1M89 254.5h2M76 255.5h6M86 255.5h5M77 256.5h3M83 256.5h1M85 256.5h2M88 256.5h2M78 257.5h11M79 258.5h5M85 258.5h3M79 259.5h2M82 259.5h1M84 259.5h2M81 260.5h1M83 260.5h1M85 260.5h1" stroke="#a8d45a" stroke-width="1" fill="none"/><path d="M183 207.5h1M184 208.5h1M183 209.5h1M180 210.5h2M183 210.5h2M180 211.5h5M179 212.5h1M181 212.5h4M179 213.5h5M185 213.5h1M178 214.5h3M183 214.5h3M178 215.5h1M180 215.5h1M183 215.5h2M177 216.5h2M184 216.5h1M177 217.5h1M180 217.5h1M182 217.5h3M177 218.5h2M184 218.5h1M177 219.5h1M179 219.5h1M184 219.5h1M176 220.5h1M176 221.5h1M184 221.5h1M175 222.5h2M183 222.5h2M175 223.5h2M184 223.5h1M175 224.5h2M184 224.5h1M183 225.5h1M175 226.5h1M184 226.5h1M82 227.5h1M183 227.5h1M83 228.5h3M174 228.5h2M183 228.5h1M79 229.5h6M86 229.5h3M174 229.5h1M181 229.5h1M183 229.5h1M78 230.5h4M83 230.5h1M85 230.5h1M87 230.5h2M174 230.5h1M182 230.5h2M77 231.5h3M81 231.5h1M83 231.5h2M87 231.5h3M173 231.5h3M181 231.5h2M77 232.5h4M83 232.5h1M87 232.5h2M174 232.5h1M181 232.5h1M183 232.5h1M75 233.5h2M78 233.5h1M80 233.5h1M88 233.5h3M182 233.5h1M75 234.5h1M77 234.5h3M88 234.5h3M174 234.5h1M181 234.5h1M75 235.5h3M88 235.5h1M90 235.5h2M173 235.5h2M181 235.5h2M75 236.5h2M78 236.5h1M89 236.5h1M91 236.5h1M173 236.5h2M180 236.5h2M75 237.5h2M79 237.5h1M88 237.5h4M173 237.5h3M181 237.5h1M76 238.5h1M88 238.5h1M90 238.5h3M175 238.5h2M180 238.5h2M74 239.5h3M79 239.5h1M91 239.5h2M172 239.5h3M180 239.5h1M74 240.5h5M91 240.5h1M174 240.5h1M176 240.5h1M179 240.5h1M74 241.5h3M90 241.5h2M173 241.5h3M177 241.5h4M75 242.5h1M89 242.5h3M173 242.5h3M177 242.5h3M74 243.5h1M76 243.5h2M88 243.5h3M174 243.5h4M75 244.5h2M90 244.5h2M175 244.5h2M74 245.5h3M90 245.5h1M178 245.5h1M74 246.5h3M88 246.5h4M175 246.5h1M75 247.5h1M79 247.5h1M88 247.5h4M77 248.5h1M87 248.5h1M90 248.5h1M75 249.5h2M78 249.5h1M80 249.5h1M88 249.5h1M90 249.5h1M77 250.5h3M82 250.5h1M87 250.5h4M76 251.5h3M84 251.5h1M86 251.5h1M89 251.5h1M75 252.5h1M77 252.5h4M85 252.5h2M89 252.5h1M78 253.5h3M82 253.5h1M85 253.5h4M77 254.5h2M80 254.5h2M85 254.5h4M82 255.5h4M80 256.5h3M84 256.5h1" stroke="#ecd070" stroke-width="1" fill="none"/><path d="M181 214.5h2M179 215.5h1M181 215.5h2M179 216.5h2M182 216.5h2M178 217.5h2M181 217.5h1M179 218.5h2M182 218.5h2M178 219.5h1M182 219.5h2M177 220.5h4M183 220.5h1M177 221.5h4M182 221.5h2M177 222.5h1M177 223.5h3M183 223.5h1M177 224.5h1M181 224.5h3M175 225.5h4M180 225.5h1M182 225.5h1M176 226.5h2M182 226.5h2M175 227.5h1M177 227.5h1M181 227.5h2M176 228.5h2M179 228.5h1M182 228.5h1M175 229.5h1M180 229.5h1M182 229.5h1M82 230.5h1M84 230.5h1M175 230.5h3M181 230.5h1M80 231.5h1M82 231.5h1M85 231.5h2M176 231.5h1M180 231.5h1M81 232.5h2M84 232.5h3M175 232.5h1M182 232.5h1M79 233.5h1M81 233.5h2M84 233.5h1M86 233.5h2M174 233.5h3M178 233.5h1M180 233.5h2M81 234.5h2M84 234.5h4M175 234.5h1M178 234.5h3M78 235.5h7M87 235.5h1M89 235.5h1M175 235.5h4M180 235.5h1M77 236.5h1M79 236.5h2M86 236.5h3M90 236.5h1M175 236.5h5M77 237.5h2M86 237.5h1M176 237.5h1M178 237.5h3M77 238.5h4M85 238.5h3M89 238.5h1M174 238.5h1M177 238.5h3M77 239.5h1M85 239.5h6M175 239.5h5M79 240.5h1M87 240.5h4M175 240.5h1M177 240.5h2M77 241.5h2M88 241.5h2M176 241.5h1M76 242.5h3M85 242.5h1M87 242.5h2M176 242.5h1M78 243.5h1M86 243.5h2M77 244.5h1M79 244.5h1M83 244.5h1M87 244.5h3M77 245.5h3M87 245.5h3M77 246.5h3M87 246.5h1M76 247.5h3M80 247.5h2M84 247.5h1M87 247.5h1M78 248.5h2M81 248.5h1M86 248.5h1M88 248.5h2M77 249.5h1M82 249.5h1M84 249.5h1M86 249.5h2M76 250.5h1M80 250.5h2M83 250.5h4M79 251.5h5M85 251.5h1M87 251.5h1M81 252.5h4M81 253.5h1M83 253.5h2M82 254.5h2" stroke="#e8904a" stroke-width="1" fill="none"/><path d="M181 216.5h1M181 218.5h1M180 219.5h2M181 220.5h2M181 221.5h1M178 222.5h5M180 223.5h3M178 224.5h3M179 225.5h1M181 225.5h1M178 226.5h4M176 227.5h1M178 227.5h3M178 228.5h1M180 228.5h2M176 229.5h4M178 230.5h3M177 231.5h3M176 232.5h5M83 233.5h1M85 233.5h1M177 233.5h1M179 233.5h1M80 234.5h1M83 234.5h1M176 234.5h2M85 235.5h2M179 235.5h1M81 236.5h5M80 237.5h6M87 237.5h1M177 237.5h1M81 238.5h4M78 239.5h1M80 239.5h5M80 240.5h7M79 241.5h9M79 242.5h6M86 242.5h1M79 243.5h7M78 244.5h1M80 244.5h3M84 244.5h3M80 245.5h7M80 246.5h7M82 247.5h2M85 247.5h2M80 248.5h1M82 248.5h4M79 249.5h1M81 249.5h1M83 249.5h1M85 249.5h1" stroke="#d85a48" stroke-width="1" fill="none"/></g>
<g shape-rendering="auto">
<path d="M40 67.5H260.5V288.5M40.5 67V288.5H261" stroke="#333" stroke-width="1.3" fill="none"/>
<path d="M40 73.5h-3.3M40 88.5h-7M40 90.5h-2M40 92.5h-2M40 94.5h-2M40 96.5h-2M40 99.5h-2M40 103.5h-4M40 108.5h-2.2M40 114.5h-2.5M40 123.5h-2.5M40 138.5h-6M40 140.5h-2M40 143.5h-2M40 146.5h-2M40 148.5h-2M40 154.5h-3.5M40 159.5h-2.2M40 166.5h-2.5M40 176.5h-2.5M40 192.5h-6M40 194.5h-2M40 197.5h-2M40 200.5h-2M40 202.5h-2M40 206.5h-3.5M40 212.5h-2.2M40 218.5h-2.5M40 228.5h-2.5M40 245.5h-3M40 267.5h-2.5M40 272.5h-2.5M40 277.5h-2.5M40 282.5h-2.5M40.5 288.5v5M44.5 288.5v2M52.5 288.5v2M59.5 288.5v2M96.5 288.5v2M104.5 288.5v2M110.5 288.5v2M116.5 288.5v4.5M121.5 288.5v2M125.5 288.5v2M129.5 288.5v2M132.5 288.5v2M134.5 288.5v7M152.5 288.5v2M161.5 288.5v2M168.5 288.5v2M173.5 288.5v4.5M178.5 288.5v2M181.5 288.5v2M184.5 288.5v2M186.5 288.5v2M189.5 288.5v7M204.5 288.5v2M213.5 288.5v2M219.5 288.5v2M223.5 288.5v4.5M228.5 288.5v2M231.5 288.5v2M234.5 288.5v2M236.5 288.5v2M239.5 288.5v7M253.5 288.5v2" stroke="#2a2a2a" stroke-width="1" fill="none"/><path fill="#1e1e1e" d="M37 240h3v6h-3zM34 240h3v1.5h-3zM34 244.5h3v1.5h-3zM37 250h3v10.2h-3zM34 250h3v1.5h-3zM33.5 258.6h3.5v1.6h-3.5zM68 288.5h5.7v3h-5.7zM68 291.5h1.5v2.8h-1.5zM72.3 291.5h1.4v2.8h-1.4zM75 288.5h3.3v3h-3.3zM77 291.5h1.3v3.2h-1.3zM82.5 288.5h5.5v3h-5.5zM82.5 291.5h1.5v3h-1.5zM86.7 291.5h1.3v3.5h-1.3z"/>
<rect x="139.2" y="74" width="94.4" height="113.7" fill="none" stroke="#e0201e" stroke-width="3"/>
<text x="207.6" y="96.3" text-anchor="middle" class="b" font-size="23" textLength="45" lengthAdjust="spacingAndGlyphs">9.37</text>
<text x="135.8" y="52.9" text-anchor="middle" class="b" font-size="23.5" textLength="62" lengthAdjust="spacingAndGlyphs">PD-L1</text>
<text x="149.75" y="327.8" text-anchor="middle" class="b" font-size="24" textLength="115" lengthAdjust="spacingAndGlyphs">CD4 AF488</text>
<text transform="translate(18.4 180.6) rotate(-90)" x="0" y="0" text-anchor="middle" class="b" font-size="22" textLength="129" lengthAdjust="spacingAndGlyphs">CD25 BV421</text>
</g>
<g shape-rendering="auto">
<path d="M361 9V283.5M361 277H893V283.5" stroke="#b8b8b8" stroke-width="1" fill="none"/>
<path d="M356 277.00H361.5" stroke="#b0b0b0" stroke-width="1"/><text x="344" y="282.80" text-anchor="end" class="tk">0</text><path d="M356 232.33H361.5" stroke="#b0b0b0" stroke-width="1"/><text x="344" y="238.13" text-anchor="end" class="tk">2</text><path d="M356 187.67H361.5" stroke="#b0b0b0" stroke-width="1"/><text x="344" y="193.47" text-anchor="end" class="tk">4</text><path d="M356 143.00H361.5" stroke="#b0b0b0" stroke-width="1"/><text x="344" y="148.80" text-anchor="end" class="tk">6</text><path d="M356 98.33H361.5" stroke="#b0b0b0" stroke-width="1"/><text x="344" y="104.13" text-anchor="end" class="tk">8</text><path d="M356 53.67H361.5" stroke="#b0b0b0" stroke-width="1"/><text x="344" y="59.47" text-anchor="end" class="tk">10</text><path d="M356 9.00H361.5" stroke="#b0b0b0" stroke-width="1"/><text x="344" y="14.80" text-anchor="end" class="tk">12</text>
<path d="M361.00 277V283.5" stroke="#b0b0b0" stroke-width="1"/><path d="M467.40 277V283.5" stroke="#b0b0b0" stroke-width="1"/><path d="M573.80 277V283.5" stroke="#b0b0b0" stroke-width="1"/><path d="M680.20 277V283.5" stroke="#b0b0b0" stroke-width="1"/><path d="M786.60 277V283.5" stroke="#b0b0b0" stroke-width="1"/><path d="M893.00 277V283.5" stroke="#b0b0b0" stroke-width="1"/>
<rect x="383" y="119.77" width="31" height="157.23" fill="#477ac9"/><rect x="414" y="67.29" width="31" height="209.71" fill="#cb4f49"/><path d="M398.5 115.5V119.77M395.5 115.5h6" stroke="#4a4a4a" stroke-width="1" fill="none"/><path d="M398.5 119.77V124.5M396.0 124.5h5" stroke="#22397a" stroke-width="1.4" fill="none"/><path d="M429.5 61.5V67.29M426.5 61.5h6" stroke="#4a4a4a" stroke-width="1" fill="none"/><path d="M429.5 67.29V74.5M427.0 74.5h5" stroke="#7a1c1c" stroke-width="1.4" fill="none"/><rect x="490" y="209.33" width="31" height="67.67" fill="#477ac9"/><rect x="521" y="179.63" width="30" height="97.37" fill="#cb4f49"/><path d="M504.5 204.5V209.33M501.5 204.5h6" stroke="#4a4a4a" stroke-width="1" fill="none"/><path d="M504.5 209.33V214.5M502.0 214.5h5" stroke="#22397a" stroke-width="1.4" fill="none"/><path d="M535.5 175.5V179.63M532.5 175.5h6" stroke="#4a4a4a" stroke-width="1" fill="none"/><path d="M535.5 179.63V184.5M533.0 184.5h5" stroke="#7a1c1c" stroke-width="1.4" fill="none"/><rect x="596" y="262.93" width="31" height="14.07" fill="#477ac9"/><rect x="627" y="255.78" width="30" height="21.22" fill="#cb4f49"/><path d="M611.5 260.5V262.93M608.5 260.5h6" stroke="#4a4a4a" stroke-width="1" fill="none"/><path d="M611.5 262.93V266.5M609.0 266.5h5" stroke="#22397a" stroke-width="1.4" fill="none"/><path d="M642.5 251.5V255.78M639.5 251.5h6" stroke="#4a4a4a" stroke-width="1" fill="none"/><path d="M642.5 255.78V260.5M640.0 260.5h5" stroke="#7a1c1c" stroke-width="1.4" fill="none"/><rect x="703" y="228.98" width="30" height="48.02" fill="#477ac9"/><rect x="733" y="161.31" width="31" height="115.69" fill="#cb4f49"/><path d="M717.5 226.5V228.98M714.5 226.5h6" stroke="#4a4a4a" stroke-width="1" fill="none"/><path d="M717.5 228.98V232.5M715.0 232.5h5" stroke="#22397a" stroke-width="1.4" fill="none"/><path d="M748.5 155.5V161.31M745.5 155.5h6" stroke="#4a4a4a" stroke-width="1" fill="none"/><path d="M748.5 161.31V168.5M746.0 168.5h5" stroke="#7a1c1c" stroke-width="1.4" fill="none"/><rect x="809" y="161.98" width="31" height="115.02" fill="#477ac9"/><rect x="840" y="93.87" width="30" height="183.13" fill="#cb4f49"/><path d="M823.5 158.5V161.98M820.5 158.5h6" stroke="#4a4a4a" stroke-width="1" fill="none"/><path d="M823.5 161.98V166.5M821.0 166.5h5" stroke="#22397a" stroke-width="1.4" fill="none"/><path d="M854.5 88.5V93.87M851.5 88.5h6" stroke="#4a4a4a" stroke-width="1" fill="none"/><path d="M854.5 93.87V99.5M852.0 99.5h5" stroke="#7a1c1c" stroke-width="1.4" fill="none"/>
<path d="M429.50 45.30L429.50 37.30M426.04 43.30L432.96 39.30M426.04 39.30L432.96 43.30" stroke="#1a1a1a" stroke-width="1.5" fill="none"/><path d="M537.20 161.30L537.20 153.30M533.74 159.30L540.66 155.30M533.74 155.30L540.66 159.30" stroke="#1a1a1a" stroke-width="1.5" fill="none"/><path d="M744.70 134.10L744.70 126.10M741.24 132.10L748.16 128.10M741.24 128.10L748.16 132.10" stroke="#1a1a1a" stroke-width="1.5" fill="none"/><path d="M756.60 134.10L756.60 126.10M753.14 132.10L760.06 128.10M753.14 128.10L760.06 132.10" stroke="#1a1a1a" stroke-width="1.5" fill="none"/><path d="M851.50 75.40L851.50 67.40M848.04 73.40L854.96 69.40M848.04 69.40L854.96 73.40" stroke="#1a1a1a" stroke-width="1.5" fill="none"/><path d="M863.20 75.40L863.20 67.40M859.74 73.40L866.66 69.40M859.74 69.40L866.66 73.40" stroke="#1a1a1a" stroke-width="1.5" fill="none"/>
<text x="414.85" y="307.5" text-anchor="middle" class="xl" textLength="46.8" lengthAdjust="spacingAndGlyphs">CD25</text><text x="520.20" y="310" text-anchor="middle" class="xl" textLength="46.3" lengthAdjust="spacingAndGlyphs">CD69</text><text x="626.75" y="307.8" text-anchor="middle" class="xl" textLength="57" lengthAdjust="spacingAndGlyphs">CD152</text><text x="626.85" y="333.4" text-anchor="middle" class="xl" textLength="74.2" lengthAdjust="spacingAndGlyphs">(CTLA-4)</text><text x="732.65" y="311.2" text-anchor="middle" class="xl" textLength="55.5" lengthAdjust="spacingAndGlyphs">CD279</text><text x="732.90" y="336.7" text-anchor="middle" class="xl" textLength="54.5" lengthAdjust="spacingAndGlyphs">(PD-1)</text><text x="838.90" y="310.7" text-anchor="middle" class="xl" textLength="56.1" lengthAdjust="spacingAndGlyphs">CD278</text><text x="839.15" y="336.4" text-anchor="middle" class="xl" textLength="54" lengthAdjust="spacingAndGlyphs">(ICOS)</text>
<text transform="translate(316.5 143.4) rotate(-90)" x="0" y="0" text-anchor="middle" class="b" font-size="16.5" textLength="192.5" lengthAdjust="spacingAndGlyphs">Percentage of CD4+ Cells</text>
<rect x="578" y="13" width="15" height="15" fill="#477ac9"/>
<rect x="578" y="37" width="15" height="15" fill="#a02a2c"/>
<text x="604.7" y="25.4" class="b" font-size="13.5" textLength="50" lengthAdjust="spacingAndGlyphs">Isotype</text>
<text x="604.7" y="49.5" class="b" font-size="13.5" textLength="37.5" lengthAdjust="spacingAndGlyphs">PD-L1</text>
</g>
</svg>
</body></html>
